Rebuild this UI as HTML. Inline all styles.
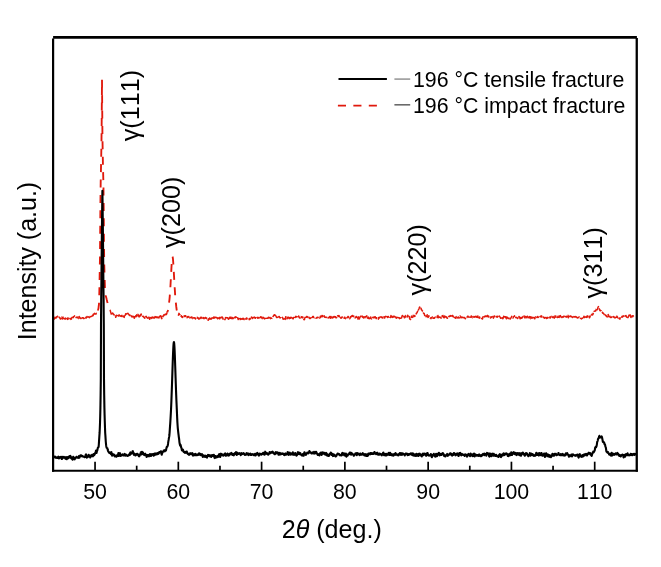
<!DOCTYPE html>
<html><head><meta charset="utf-8"><style>
html,body{margin:0;padding:0;background:#fff;}
svg{display:block;will-change:transform;}
text{font-family:"Liberation Sans",sans-serif;fill:#000;font-kerning:none;font-feature-settings:"kern" 0;}
.rb{fill:none;stroke:#e0190c;stroke-width:1.5;stroke-dasharray:4.5 1.2;stroke-linejoin:round;}
.rp{fill:none;stroke:#e0190c;stroke-width:1.85;stroke-dasharray:8 7.4;stroke-linejoin:round;}
</style></head><body>
<svg width="661" height="567" viewBox="0 0 661 567">
<rect x="0" y="0" width="661" height="567" fill="#fff"/>
<polyline class="rb" points="53.20,319.35 53.45,319.34 53.70,318.80 53.95,318.42 54.20,318.55 54.45,318.92 54.70,318.57 54.95,317.85 55.20,316.51 55.45,316.68 55.70,317.43 55.95,317.98 56.20,318.03 56.45,317.48 56.70,316.81 56.95,317.19 57.20,316.81 57.45,316.17 57.70,316.55 57.95,317.02 58.20,317.43 58.45,317.67 58.70,317.47 58.95,317.27 59.20,317.21 59.45,317.38 59.70,317.46 59.95,318.26 60.20,318.58 60.45,319.02 60.70,318.87 60.95,318.42 61.20,318.39 61.45,318.41 61.70,317.96 61.95,316.96 62.20,317.70 62.45,318.97 62.70,318.75 62.95,318.71 63.20,317.80 63.45,317.20 63.70,317.62 63.95,317.77 64.20,317.92 64.45,318.82 64.70,318.92 64.95,318.39 65.20,319.13 65.45,318.79 65.70,318.11 65.95,318.83 66.20,318.96 66.45,318.57 66.70,318.18 66.95,318.76 67.20,318.94 67.45,319.44 67.70,318.36 67.95,317.90 68.20,318.38 68.45,318.29 68.70,318.86 68.95,318.42 69.20,318.55 69.45,318.13 69.70,318.27 69.95,318.60 70.20,318.59 70.45,318.91 70.70,318.81 70.95,319.39 71.20,318.93 71.45,318.06 71.70,318.83 71.95,318.19 72.20,317.32 72.45,317.41 72.70,317.44 72.95,317.61 73.20,317.65 73.45,317.32 73.70,316.40 73.95,316.56 74.20,316.27 74.45,315.91 74.70,316.20 74.95,316.57 75.20,317.20 75.45,317.28 75.70,317.44 75.95,317.38 76.20,317.48 76.45,317.50 76.70,317.12 76.95,317.28 77.20,317.38 77.45,317.19 77.70,317.13 77.95,317.70 78.20,318.20 78.45,318.45 78.70,317.72 78.95,317.10 79.20,316.51 79.45,316.93 79.70,317.82 79.95,318.17 80.20,317.80 80.45,318.12 80.70,318.40 80.95,318.40 81.20,317.65 81.45,317.02 81.70,317.50 81.95,318.06 82.20,317.73 82.45,317.79 82.70,317.71 82.95,317.70 83.20,317.80 83.45,318.59 83.70,318.24 83.95,318.31 84.20,318.38 84.45,317.83 84.70,317.31 84.95,317.25 85.20,317.26 85.45,317.60 85.70,317.72 85.95,318.18 86.20,317.88 86.45,317.76 86.70,316.99 86.95,316.49 87.20,317.14 87.45,317.91 87.70,318.09 87.95,317.85 88.20,317.08 88.45,316.87 88.70,317.00 88.95,316.99 89.20,317.36 89.45,317.59 89.70,317.32 89.95,316.77 90.20,316.89 90.45,315.82 90.70,315.90 90.95,316.05 91.20,316.17 91.45,316.29 91.70,316.51 91.95,315.97 92.20,315.93 92.45,315.31 92.70,315.42 92.95,315.69 93.20,315.46 93.45,314.16 93.70,313.67 93.95,314.58 94.20,313.77 94.45,313.39 94.70,313.55 94.95,314.04 95.20,313.97 95.45,314.08 95.70,314.09 95.95,313.67 96.20,313.31 96.45,313.66 96.70,313.35 96.95,312.28"/>
<polyline class="rp" style="stroke-dashoffset:8" points="102.00,79.73 101.95,86.62 101.70,120.92 101.45,143.16 101.20,157.36 100.95,170.24 100.70,182.08 100.45,200.99 100.20,230.30 99.95,259.41 99.70,272.75 99.45,286.90 99.20,298.46 98.95,304.69 98.70,306.23 98.45,308.48 98.20,309.26 97.95,309.84 97.70,310.89 97.45,310.86 97.20,310.94 96.95,312.28"/>
<polyline class="rp" points="102.00,79.73 102.20,107.10 102.45,137.26 102.70,151.49 102.95,164.90 103.20,174.95 103.45,185.02 103.70,208.27 103.95,240.14 104.20,262.47 104.45,270.68 104.70,279.24 104.95,287.93 105.20,293.40 105.45,294.64 105.70,295.68 105.95,296.50 106.20,297.38 106.45,298.36 106.70,299.46 106.95,300.35 107.20,301.95 107.45,302.27 107.70,303.24 107.95,304.08 108.20,304.48 108.45,304.83 108.70,305.05 108.95,306.21 109.20,307.73 109.45,308.50 109.70,308.69 109.95,309.61 110.20,310.02"/>
<polyline class="rb" points="110.20,310.02 110.45,311.34 110.70,312.26 110.95,312.87 111.20,314.02 111.45,313.63 111.70,313.98 111.95,313.43 112.20,313.66 112.45,313.03 112.70,313.18 112.95,313.36 113.20,313.96 113.45,314.00 113.70,314.47 113.95,314.93 114.20,314.81 114.45,315.25 114.70,315.81 114.95,315.84 115.20,316.10 115.45,315.99 115.70,317.26 115.95,316.91 116.20,315.51 116.45,315.31 116.70,315.65 116.95,316.12 117.20,316.37 117.45,316.56 117.70,316.30 117.95,315.47 118.20,315.68 118.45,315.88 118.70,316.07 118.95,315.55 119.20,314.85 119.45,315.67 119.70,316.88 119.95,316.41 120.20,316.37 120.45,315.94 120.70,315.73 120.95,315.87 121.20,316.05 121.45,316.36 121.70,315.73 121.95,315.31 122.20,316.31 122.45,316.43 122.70,315.97 122.95,316.09 123.20,316.52 123.45,316.29 123.70,315.99 123.95,317.04 124.20,317.46 124.45,316.14 124.70,315.37 124.95,316.00 125.20,315.91 125.45,314.59 125.70,313.79 125.95,313.77 126.20,314.01 126.45,313.89 126.70,313.98 126.95,313.77 127.20,313.42 127.45,314.23 127.70,314.45 127.95,313.34 128.20,313.72 128.45,314.07 128.70,314.30 128.95,314.75 129.20,314.90 129.45,315.58 129.70,315.33 129.95,315.09 130.20,315.60 130.45,315.89 130.70,316.25 130.95,315.82 131.20,315.81 131.45,316.62 131.70,316.35 131.95,316.46 132.20,316.80 132.45,316.26 132.70,316.23 132.95,316.65 133.20,317.60 133.45,316.88 133.70,316.47 133.95,316.97 134.20,318.22 134.45,317.92 134.70,316.74 134.95,316.64 135.20,317.32 135.45,316.28 135.70,315.81 135.95,315.93 136.20,316.69 136.45,315.50 136.70,314.86 136.95,315.48 137.20,315.69 137.45,315.34 137.70,314.83 137.95,314.39 138.20,315.09 138.45,315.97 138.70,315.23 138.95,316.19 139.20,316.96 139.45,316.48 139.70,315.97 139.95,316.18 140.20,315.83 140.45,314.83 140.70,314.97 140.95,314.30 141.20,313.99 141.45,314.95 141.70,314.81 141.95,314.89 142.20,314.91 142.45,315.99 142.70,316.39 142.95,316.20 143.20,316.20 143.45,316.70 143.70,317.30 143.95,317.21 144.20,317.27 144.45,317.95 144.70,318.17 144.95,318.31 145.20,317.86 145.45,316.91 145.70,316.90 145.95,316.49 146.20,316.34 146.45,316.96 146.70,317.24 146.95,317.52 147.20,317.57 147.45,318.00 147.70,318.04 147.95,318.43 148.20,319.13 148.45,319.33 148.70,318.20 148.95,317.12 149.20,317.45 149.45,318.83 149.70,319.28 149.95,318.91 150.20,318.63 150.45,317.75 150.70,317.63 150.95,318.38 151.20,318.40 151.45,318.20 151.70,318.03 151.95,317.43 152.20,316.98 152.45,317.88 152.70,317.79 152.95,317.29 153.20,317.51 153.45,317.98 153.70,317.42 153.95,317.14 154.20,317.74 154.45,318.04 154.70,317.92 154.95,317.56 155.20,316.99 155.45,316.25 155.70,315.59 155.95,316.12 156.20,316.69 156.45,317.51 156.70,317.19 156.95,317.49 157.20,317.70 157.45,317.03 157.70,317.24 157.95,318.45 158.20,318.37 158.45,317.23 158.70,317.63 158.95,317.93 159.20,316.99 159.45,316.75 159.70,316.56 159.95,316.12 160.20,315.49 160.45,314.69 160.70,315.28 160.95,316.17 161.20,317.04 161.45,318.18 161.70,318.69 161.95,318.10 162.20,317.05 162.45,316.21 162.70,316.38 162.95,316.65 163.20,316.05 163.45,315.89 163.70,315.77 163.95,314.68 164.20,314.55 164.45,315.27 164.70,315.12 164.95,314.94 165.20,314.43 165.45,314.08 165.70,314.70 165.95,314.40 166.20,314.48 166.45,314.43 166.70,313.83 166.95,312.88 167.20,312.55"/>
<polyline class="rp" style="stroke-dashoffset:8" points="172.50,256.61 172.45,256.66 172.20,257.69 171.95,260.02 171.70,263.39 171.45,267.57 171.20,272.24 170.95,276.95 170.70,281.57 170.45,285.95 170.20,289.86 169.95,293.41 169.70,296.88 169.45,299.55 169.20,301.50 168.95,304.18 168.70,306.22 168.45,307.89 168.20,309.80 167.95,310.44 167.70,311.14 167.45,311.56 167.20,312.55"/>
<polyline class="rp" points="172.50,256.61 172.70,257.06 172.95,258.95 173.20,261.98 173.45,265.77 173.70,270.11 173.95,274.62 174.20,279.08 174.45,283.56 174.70,287.88 174.95,291.62 175.20,295.98 175.45,299.17 175.70,301.43 175.95,303.66 176.20,306.17 176.45,308.00 176.70,310.06 176.95,310.80 177.20,311.58 177.45,312.24 177.70,313.55 177.95,314.17 178.20,314.70"/>
<polyline class="rb" points="178.20,314.70 178.45,315.14 178.70,314.17 178.95,313.38 179.20,313.43 179.45,314.11 179.70,314.54 179.95,314.82 180.20,315.43 180.45,315.74 180.70,315.52 180.95,316.09 181.20,315.77 181.45,315.82 181.70,316.79 181.95,317.28 182.20,317.08 182.45,316.72 182.70,317.41 182.95,317.11 183.20,316.45 183.45,316.53 183.70,316.53 183.95,316.17 184.20,316.04 184.45,316.49 184.70,315.86 184.95,315.82 185.20,315.83 185.45,315.74 185.70,315.69 185.95,317.20 186.20,317.52 186.45,317.12 186.70,317.44 186.95,317.43 187.20,317.61 187.45,317.20 187.70,316.64 187.95,316.93 188.20,317.11 188.45,316.86 188.70,316.47 188.95,317.15 189.20,317.70 189.45,317.48 189.70,317.24 189.95,317.89 190.20,317.55 190.45,317.51 190.70,317.36 190.95,317.28 191.20,317.58 191.45,317.32 191.70,317.07 191.95,317.11 192.20,318.09 192.45,318.56 192.70,318.26 192.95,317.95 193.20,318.02 193.45,318.17 193.70,317.67 193.95,317.65 194.20,317.82 194.45,317.82 194.70,318.13 194.95,318.36 195.20,318.46 195.45,318.98 195.70,318.23 195.95,318.11 196.20,318.17 196.45,317.79 196.70,317.31 196.95,317.44 197.20,317.26 197.45,317.60 197.70,318.11 197.95,318.26 198.20,317.94 198.45,318.11 198.70,318.99 198.95,318.76 199.20,318.94 199.45,318.25 199.70,318.50 199.95,318.79 200.20,317.68 200.45,317.30 200.70,318.14 200.95,318.48 201.20,318.06 201.45,317.57 201.70,317.27 201.95,317.73 202.20,318.08 202.45,317.60 202.70,317.45 202.95,318.32 203.20,317.83 203.45,317.64 203.70,318.30 203.95,318.77 204.20,318.07 204.45,318.49 204.70,319.19 204.95,318.61 205.20,317.92 205.45,317.41 205.70,317.45 205.95,318.29 206.20,317.80 206.45,318.24 206.70,318.69 206.95,318.31 207.20,318.60 207.45,319.29 207.70,319.47 207.95,319.99 208.20,320.26 208.45,319.95 208.70,318.85 208.95,318.99 209.20,318.93 209.45,318.36 209.70,317.74 209.95,318.38 210.20,319.21 210.45,319.06 210.70,318.39 210.95,318.46 211.20,318.74 211.45,318.94 211.70,318.36 211.95,317.93 212.20,317.81 212.45,318.73 212.70,319.16 212.95,318.50 213.20,318.18 213.45,317.82 213.70,317.10 213.95,317.64 214.20,318.17 214.45,317.84 214.70,317.06 214.95,316.61 215.20,316.90 215.45,317.59 215.70,317.32 215.95,317.54 216.20,317.77 216.45,317.60 216.70,317.56 216.95,317.98 217.20,317.77 217.45,318.03 217.70,318.74 217.95,318.32 218.20,317.07 218.45,317.35 218.70,318.08 218.95,317.86 219.20,318.37 219.45,318.69 219.70,318.74 219.95,318.45 220.20,317.09 220.45,316.72 220.70,316.88 220.95,317.14 221.20,317.73 221.45,317.59 221.70,317.08 221.95,317.07 222.20,317.07 222.45,317.37 222.70,317.73 222.95,319.01 223.20,318.92 223.45,318.31 223.70,318.38 223.95,318.75 224.20,318.76 224.45,319.07 224.70,319.12 224.95,319.65 225.20,318.89 225.45,317.76 225.70,317.52 225.95,318.06 226.20,318.83 226.45,318.39 226.70,318.24 226.95,317.65 227.20,317.96 227.45,317.68 227.70,317.87 227.95,318.08 228.20,318.23 228.45,319.27 228.70,318.43 228.95,318.53 229.20,319.43 229.45,318.76 229.70,317.36 229.95,318.03 230.20,318.26 230.45,317.43 230.70,317.35 230.95,317.14 231.20,317.47 231.45,318.57 231.70,318.43 231.95,317.54 232.20,317.52 232.45,318.46 232.70,318.63 232.95,318.54 233.20,318.56 233.45,318.06 233.70,318.04 233.95,318.34 234.20,318.87 234.45,318.18 234.70,317.28 234.95,317.25 235.20,317.76 235.45,317.38 235.70,316.76 235.95,316.83 236.20,317.24 236.45,317.06 236.70,316.99 236.95,316.69 237.20,316.47 237.45,317.63 237.70,318.06 237.95,318.84 238.20,319.50 238.45,318.38 238.70,318.05 238.95,317.65 239.20,317.35 239.45,317.44 239.70,317.89 239.95,318.65 240.20,319.49 240.45,319.15 240.70,318.85 240.95,319.15 241.20,318.78 241.45,319.13 241.70,319.05 241.95,318.83 242.20,319.36 242.45,319.85 242.70,319.43 242.95,318.29 243.20,318.26 243.45,319.02 243.70,319.01 243.95,318.77 244.20,319.51 244.45,319.81 244.70,319.92 244.95,319.77 245.20,319.84 245.45,318.93 245.70,318.76 245.95,319.15 246.20,318.82 246.45,317.97 246.70,318.20 246.95,318.87 247.20,318.74 247.45,318.30 247.70,318.33 247.95,318.39 248.20,318.45 248.45,318.76 248.70,318.76 248.95,318.68 249.20,319.62 249.45,319.16 249.70,318.95 249.95,319.42 250.20,318.56 250.45,317.53 250.70,317.25 250.95,317.47 251.20,317.37 251.45,317.07 251.70,317.47 251.95,317.81 252.20,318.53 252.45,318.13 252.70,317.50 252.95,317.70 253.20,316.93 253.45,316.09 253.70,316.90 253.95,317.74 254.20,317.40 254.45,317.16 254.70,317.47 254.95,317.65 255.20,318.13 255.45,318.09 255.70,317.86 255.95,318.28 256.20,318.47 256.45,317.98 256.70,318.02 256.95,317.76 257.20,317.33 257.45,317.62 257.70,318.29 257.95,318.24 258.20,318.05 258.45,317.43 258.70,317.80 258.95,317.68 259.20,318.80 259.45,318.71 259.70,318.42 259.95,317.75 260.20,317.45 260.45,316.91 260.70,316.84 260.95,317.21 261.20,317.10 261.45,317.07 261.70,317.43 261.95,318.18 262.20,318.45 262.45,318.49 262.70,317.61 262.95,317.29 263.20,317.77 263.45,317.95 263.70,317.55 263.95,318.22 264.20,318.44 264.45,318.80 264.70,318.87 264.95,318.55 265.20,318.33 265.45,318.66 265.70,318.87 265.95,318.00 266.20,318.28 266.45,318.31 266.70,318.19 266.95,318.26 267.20,318.21 267.45,318.10 267.70,318.25 267.95,317.98 268.20,318.14 268.45,317.15 268.70,317.79 268.95,317.30 269.20,316.69 269.45,316.83 269.70,317.29 269.95,317.78 270.20,318.16 270.45,318.67 270.70,318.27 270.95,317.99 271.20,318.04 271.45,318.28 271.70,318.28 271.95,318.37 272.20,317.46 272.45,317.00 272.70,316.74 272.95,316.48 273.20,316.37 273.45,315.86 273.70,315.12 273.95,315.09 274.20,315.08 274.45,314.68 274.70,315.44 274.95,316.32 275.20,316.13 275.45,315.32 275.70,315.40 275.95,316.08 276.20,316.61 276.45,317.35 276.70,317.48 276.95,317.39 277.20,317.25 277.45,317.48 277.70,317.59 277.95,318.22 278.20,317.61 278.45,316.99 278.70,316.68 278.95,316.43 279.20,316.41 279.45,317.00 279.70,317.56 279.95,317.96 280.20,317.72 280.45,317.81 280.70,317.68 280.95,317.64 281.20,318.08 281.45,318.25 281.70,318.01 281.95,317.97 282.20,317.79 282.45,317.33 282.70,317.92 282.95,318.17 283.20,319.34 283.45,318.95 283.70,318.85 283.95,318.67 284.20,318.25 284.45,319.08 284.70,318.82 284.95,319.23 285.20,319.39 285.45,318.45 285.70,316.71 285.95,316.88 286.20,317.28 286.45,317.20 286.70,317.91 286.95,318.82 287.20,318.64 287.45,317.65 287.70,317.28 287.95,317.96 288.20,317.99 288.45,317.33 288.70,317.21 288.95,318.26 289.20,318.67 289.45,318.45 289.70,318.01 289.95,317.53 290.20,317.53 290.45,317.52 290.70,318.22 290.95,317.52 291.20,317.38 291.45,317.74 291.70,318.21 291.95,318.94 292.20,318.68 292.45,318.01 292.70,318.30 292.95,318.68 293.20,318.73 293.45,317.57 293.70,317.42 293.95,317.47 294.20,317.99 294.45,318.22 294.70,318.06 294.95,318.35 295.20,317.29 295.45,317.05 295.70,316.64 295.95,316.30 296.20,316.72 296.45,317.00 296.70,316.74 296.95,316.71 297.20,316.87 297.45,316.91 297.70,317.49 297.95,317.48 298.20,317.31 298.45,317.14 298.70,316.01 298.95,316.54 299.20,317.58 299.45,317.37 299.70,317.95 299.95,318.06 300.20,317.86 300.45,317.53 300.70,316.95 300.95,316.55 301.20,316.68 301.45,317.52 301.70,317.61 301.95,317.36 302.20,316.86 302.45,317.35 302.70,317.80 302.95,317.25 303.20,317.26 303.45,317.94 303.70,319.15 303.95,319.37 304.20,319.74 304.45,319.65 304.70,318.32 304.95,317.48 305.20,316.52 305.45,317.05 305.70,317.19 305.95,317.34 306.20,317.09 306.45,316.43 306.70,317.12 306.95,316.99 307.20,316.54 307.45,316.89 307.70,317.41 307.95,317.30 308.20,317.99 308.45,317.94 308.70,317.55 308.95,317.20 309.20,317.57 309.45,318.45 309.70,318.32 309.95,318.22 310.20,318.29 310.45,318.44 310.70,318.18 310.95,317.62 311.20,317.56 311.45,317.43 311.70,317.25 311.95,316.52 312.20,316.99 312.45,317.45 312.70,316.55 312.95,316.54 313.20,316.85 313.45,316.58 313.70,317.09 313.95,317.57 314.20,317.83 314.45,317.70 314.70,317.58 314.95,317.39 315.20,317.63 315.45,317.81 315.70,317.98 315.95,318.15 316.20,318.19 316.45,318.05 316.70,317.74 316.95,317.41 317.20,317.20 317.45,317.68 317.70,317.80 317.95,317.24 318.20,317.38 318.45,317.25 318.70,317.05 318.95,316.86 319.20,317.33 319.45,317.91 319.70,318.05 319.95,317.86 320.20,316.81 320.45,316.14 320.70,317.01 320.95,317.11 321.20,317.41 321.45,317.82 321.70,316.98 321.95,315.47 322.20,315.65 322.45,316.23 322.70,316.72 322.95,315.92 323.20,315.93 323.45,316.25 323.70,315.44 323.95,315.63 324.20,315.74 324.45,316.26 324.70,317.20 324.95,317.36 325.20,317.29 325.45,317.26 325.70,317.18 325.95,317.41 326.20,317.57 326.45,317.22 326.70,317.39 326.95,317.52 327.20,318.18 327.45,318.49 327.70,318.35 327.95,318.18 328.20,317.53 328.45,317.42 328.70,317.59 328.95,317.54 329.20,317.68 329.45,317.18 329.70,316.46 329.95,316.53 330.20,317.49 330.45,318.32 330.70,317.33 330.95,316.51 331.20,317.02 331.45,316.90 331.70,317.22 331.95,319.02 332.20,319.11 332.45,317.76 332.70,317.12 332.95,317.00 333.20,317.38 333.45,317.53 333.70,317.27 333.95,316.43 334.20,316.73 334.45,317.39 334.70,317.11 334.95,316.57 335.20,317.24 335.45,317.49 335.70,316.74 335.95,317.64 336.20,317.57 336.45,317.81 336.70,317.48 336.95,316.78 337.20,316.22 337.45,315.86 337.70,315.68 337.95,316.09 338.20,316.17 338.45,315.68 338.70,315.78 338.95,315.49 339.20,316.01 339.45,316.98 339.70,317.86 339.95,318.00 340.20,317.95 340.45,317.60 340.70,317.50 340.95,318.27 341.20,318.16 341.45,317.33 341.70,317.47 341.95,317.63 342.20,317.03 342.45,317.03 342.70,317.53 342.95,317.63 343.20,317.70 343.45,317.34 343.70,317.58 343.95,317.95 344.20,318.22 344.45,317.34 344.70,317.15 344.95,317.14 345.20,317.86 345.45,318.40 345.70,318.61 345.95,318.06 346.20,318.13 346.45,318.18 346.70,318.41 346.95,317.70 347.20,317.35 347.45,317.54 347.70,317.10 347.95,316.52 348.20,316.41 348.45,317.68 348.70,318.54 348.95,318.54 349.20,318.73 349.45,318.47 349.70,318.74 349.95,318.58 350.20,317.57 350.45,316.76 350.70,316.88 350.95,317.04 351.20,316.76 351.45,315.97 351.70,316.86 351.95,316.72 352.20,315.94 352.45,315.42 352.70,315.67 352.95,316.34 353.20,316.65 353.45,316.50 353.70,315.98 353.95,316.52 354.20,317.12 354.45,317.21 354.70,317.22 354.95,317.72 355.20,317.91 355.45,317.22 355.70,317.55 355.95,316.84 356.20,316.48 356.45,316.80 356.70,317.72 356.95,318.12 357.20,318.21 357.45,317.51 357.70,317.70 357.95,319.02 358.20,318.35 358.45,316.87 358.70,317.20 358.95,318.16 359.20,318.99 359.45,318.79 359.70,317.52 359.95,317.44 360.20,316.99 360.45,316.48 360.70,316.00 360.95,315.44 361.20,315.43 361.45,315.85 361.70,316.10 361.95,315.96 362.20,316.91 362.45,316.92 362.70,317.12 362.95,316.65 363.20,316.84 363.45,317.96 363.70,317.76 363.95,316.89 364.20,317.25 364.45,316.90 364.70,317.47 364.95,317.67 365.20,317.13 365.45,316.69 365.70,316.59 365.95,316.45 366.20,316.27 366.45,316.58 366.70,316.15 366.95,315.87 367.20,317.05 367.45,318.14 367.70,318.01 367.95,317.37 368.20,317.10 368.45,317.57 368.70,318.51 368.95,318.33 369.20,317.65 369.45,318.09 369.70,318.60 369.95,318.10 370.20,317.73 370.45,317.22 370.70,317.04 370.95,318.12 371.20,318.56 371.45,318.76 371.70,318.90 371.95,318.39 372.20,318.22 372.45,318.35 372.70,317.60 372.95,317.23 373.20,317.74 373.45,317.70 373.70,317.52 373.95,317.81 374.20,317.79 374.45,316.79 374.70,315.80 374.95,315.80 375.20,316.39 375.45,317.01 375.70,317.47 375.95,318.16 376.20,318.63 376.45,317.87 376.70,318.22 376.95,318.06 377.20,317.99 377.45,318.04 377.70,318.60 377.95,318.83 378.20,319.14 378.45,318.89 378.70,317.44 378.95,317.50 379.20,318.05 379.45,318.02 379.70,317.45 379.95,317.06 380.20,317.55 380.45,316.82 380.70,316.98 380.95,316.71 381.20,316.88 381.45,317.35 381.70,317.18 381.95,317.73 382.20,317.60 382.45,317.19 382.70,317.57 382.95,317.98 383.20,318.31 383.45,318.15 383.70,317.09 383.95,316.90 384.20,316.83 384.45,316.97 384.70,317.94 384.95,317.20 385.20,316.68 385.45,316.42 385.70,316.36 385.95,316.93 386.20,316.67 386.45,316.17 386.70,316.30 386.95,316.70 387.20,316.93 387.45,317.34 387.70,317.45 387.95,316.73 388.20,316.42 388.45,316.79 388.70,317.11 388.95,317.02 389.20,317.05 389.45,316.59 389.70,316.88 389.95,316.99 390.20,316.74 390.45,317.42 390.70,317.33 390.95,315.61 391.20,316.01 391.45,316.79 391.70,317.02 391.95,316.46 392.20,316.85 392.45,317.37 392.70,316.85 392.95,316.23 393.20,316.22 393.45,316.71 393.70,317.02 393.95,317.02 394.20,316.51 394.45,315.64 394.70,316.00 394.95,316.55 395.20,316.96 395.45,317.09 395.70,316.91 395.95,317.62 396.20,318.22 396.45,318.04 396.70,317.90 396.95,317.38 397.20,317.25 397.45,317.97 397.70,318.40 397.95,318.60 398.20,318.04 398.45,317.58 398.70,317.75 398.95,318.04 399.20,317.75 399.45,318.62 399.70,318.30 399.95,318.04 400.20,318.10 400.45,318.27 400.70,317.36 400.95,317.66 401.20,317.86 401.45,318.02 401.70,317.57 401.95,316.41 402.20,315.65 402.45,315.53 402.70,316.42 402.95,317.03 403.20,316.90 403.45,316.70 403.70,316.70 403.95,316.36 404.20,317.33 404.45,317.77 404.70,317.55 404.95,317.35 405.20,317.13 405.45,315.78 405.70,315.57 405.95,316.11 406.20,316.23 406.45,316.21 406.70,316.43 406.95,316.52 407.20,317.07 407.45,316.29 407.70,315.27 407.95,315.85 408.20,316.08 408.45,316.29 408.70,317.22 408.95,316.77 409.20,316.52 409.45,317.67 409.70,318.90 409.95,318.88 410.20,319.36 410.45,319.27 410.70,319.39 410.95,318.87 411.20,317.87 411.45,316.17 411.70,316.10 411.95,316.32 412.20,316.86 412.45,317.41 412.70,317.30 412.95,316.60 413.20,315.38 413.45,315.46 413.70,316.12 413.95,316.57 414.20,316.36 414.45,315.69 414.70,315.58 414.95,316.19 415.20,315.54 415.45,315.31 415.70,315.20 415.95,314.81 416.20,313.79 416.45,313.11 416.70,313.01 416.95,312.63 417.20,312.36 417.45,311.51 417.70,311.24 417.95,311.14 418.20,311.52 418.45,309.86 418.70,309.28 418.95,308.93 419.20,308.14 419.45,307.28 419.70,307.03 419.95,307.49 420.20,308.34 420.45,308.71 420.70,308.78 420.95,308.22 421.20,308.80 421.45,309.81 421.70,310.07 421.95,310.23 422.20,310.66 422.45,311.19 422.70,311.21 422.95,311.64 423.20,311.96 423.45,312.99 423.70,313.54 423.95,313.48 424.20,313.42 424.45,314.50 424.70,315.58 424.95,315.31 425.20,315.31 425.45,314.78 425.70,315.12 425.95,316.00 426.20,316.67 426.45,316.56 426.70,316.22 426.95,316.34 427.20,314.70 427.45,315.02 427.70,316.62 427.95,317.39 428.20,317.37 428.45,316.24 428.70,315.70 428.95,315.85 429.20,316.51 429.45,317.32 429.70,317.32 429.95,317.50 430.20,317.98 430.45,317.92 430.70,318.26 430.95,318.62 431.20,317.89 431.45,317.71 431.70,317.56 431.95,317.72 432.20,317.00 432.45,316.98 432.70,317.33 432.95,316.98 433.20,318.28 433.45,318.30 433.70,317.80 433.95,317.81 434.20,318.25 434.45,318.13 434.70,317.58 434.95,317.62 435.20,317.22 435.45,317.12 435.70,317.23 435.95,317.10 436.20,316.79 436.45,316.63 436.70,316.44 436.95,316.70 437.20,317.57 437.45,317.40 437.70,316.02 437.95,315.51 438.20,316.93 438.45,317.63 438.70,316.98 438.95,316.96 439.20,317.06 439.45,317.18 439.70,317.10 439.95,317.35 440.20,317.49 440.45,317.63 440.70,317.66 440.95,317.41 441.20,318.13 441.45,317.93 441.70,317.45 441.95,316.57 442.20,315.86 442.45,316.29 442.70,315.98 442.95,315.53 443.20,317.00 443.45,317.54 443.70,316.97 443.95,317.29 444.20,317.81 444.45,317.03 444.70,315.90 444.95,316.82 445.20,316.34 445.45,316.98 445.70,317.96 445.95,317.22 446.20,316.90 446.45,317.54 446.70,317.48 446.95,317.20 447.20,318.35 447.45,318.11 447.70,317.69 447.95,317.58 448.20,317.61 448.45,317.68 448.70,316.81 448.95,316.29 449.20,316.52 449.45,316.53 449.70,316.34 449.95,315.82 450.20,316.18 450.45,316.16 450.70,315.64 450.95,316.01 451.20,316.23 451.45,316.88 451.70,316.99 451.95,316.14 452.20,315.41 452.45,315.60 452.70,315.48 452.95,315.83 453.20,316.82 453.45,316.78 453.70,316.20 453.95,316.00 454.20,316.79 454.45,317.57 454.70,317.51 454.95,317.40 455.20,317.71 455.45,318.29 455.70,318.17 455.95,317.39 456.20,316.61 456.45,317.45 456.70,317.63 456.95,317.67 457.20,317.93 457.45,317.46 457.70,317.69 457.95,317.57 458.20,317.00 458.45,317.36 458.70,317.82 458.95,318.15 459.20,317.82 459.45,317.41 459.70,317.04 459.95,315.90 460.20,316.04 460.45,316.27 460.70,317.01 460.95,317.66 461.20,317.48 461.45,317.51 461.70,317.71 461.95,317.71 462.20,316.86 462.45,316.98 462.70,316.66 462.95,316.82 463.20,317.48 463.45,317.63 463.70,317.47 463.95,317.81 464.20,317.60 464.45,317.55 464.70,317.79 464.95,318.19 465.20,318.84 465.45,318.83 465.70,318.19 465.95,317.97 466.20,317.92 466.45,318.15 466.70,317.98 466.95,317.47 467.20,316.68 467.45,316.70 467.70,316.30 467.95,316.10 468.20,316.51 468.45,316.72 468.70,317.13 468.95,317.21 469.20,317.05 469.45,317.13 469.70,316.96 469.95,316.54 470.20,316.34 470.45,317.00 470.70,317.25 470.95,316.96 471.20,316.04 471.45,315.98 471.70,316.76 471.95,317.31 472.20,317.39 472.45,317.61 472.70,317.19 472.95,317.29 473.20,316.58 473.45,316.63 473.70,316.84 473.95,317.24 474.20,316.86 474.45,316.89 474.70,316.99 474.95,316.56 475.20,316.68 475.45,316.41 475.70,316.84 475.95,316.15 476.20,316.02 476.45,316.91 476.70,317.12 476.95,316.24 477.20,317.04 477.45,317.43 477.70,316.81 477.95,315.96 478.20,316.14 478.45,316.58 478.70,316.26 478.95,317.66 479.20,318.19 479.45,317.07 479.70,317.11 479.95,317.92 480.20,317.89 480.45,318.17 480.70,317.86 480.95,317.71 481.20,318.00 481.45,318.42 481.70,318.42 481.95,318.33 482.20,318.89 482.45,318.97 482.70,318.14 482.95,316.91 483.20,316.76 483.45,317.01 483.70,317.40 483.95,317.46 484.20,316.89 484.45,316.97 484.70,316.28 484.95,316.37 485.20,316.14 485.45,316.16 485.70,316.43 485.95,315.83 486.20,315.94 486.45,316.50 486.70,315.86 486.95,315.02 487.20,315.20 487.45,315.91 487.70,316.63 487.95,316.67 488.20,316.01 488.45,316.05 488.70,316.35 488.95,317.03 489.20,317.34 489.45,317.23 489.70,317.35 489.95,317.17 490.20,317.41 490.45,317.95 490.70,317.59 490.95,316.83 491.20,316.91 491.45,317.43 491.70,317.03 491.95,316.73 492.20,316.90 492.45,316.54 492.70,316.85 492.95,316.89 493.20,317.48 493.45,318.16 493.70,317.30 493.95,316.22 494.20,315.96 494.45,316.64 494.70,316.55 494.95,316.09 495.20,316.35 495.45,316.52 495.70,316.21 495.95,316.53 496.20,316.75 496.45,316.59 496.70,316.98 496.95,316.27 497.20,316.24 497.45,317.12 497.70,316.84 497.95,316.54 498.20,316.68 498.45,317.15 498.70,316.89 498.95,316.56 499.20,316.04 499.45,316.23 499.70,316.69 499.95,316.65 500.20,317.31 500.45,318.16 500.70,318.22 500.95,318.28 501.20,317.81 501.45,318.15 501.70,318.19 501.95,318.36 502.20,317.90 502.45,318.31 502.70,318.74 502.95,318.44 503.20,318.10 503.45,317.32 503.70,316.30 503.95,316.54 504.20,316.99 504.45,317.57 504.70,317.22 504.95,316.84 505.20,317.47 505.45,317.22 505.70,316.66 505.95,317.59 506.20,318.04 506.45,318.75 506.70,317.91 506.95,316.89 507.20,317.73 507.45,317.84 507.70,317.76 507.95,318.27 508.20,318.57 508.45,318.18 508.70,318.04 508.95,318.59 509.20,318.37 509.45,317.86 509.70,318.39 509.95,318.30 510.20,318.93 510.45,318.76 510.70,318.03 510.95,317.86 511.20,317.27 511.45,317.12 511.70,316.35 511.95,316.45 512.20,317.10 512.45,317.59 512.70,317.83 512.95,317.94 513.20,317.65 513.45,316.93 513.70,316.71 513.95,316.55 514.20,316.41 514.45,315.78 514.70,316.31 514.95,317.38 515.20,317.14 515.45,316.92 515.70,317.55 515.95,317.74 516.20,317.63 516.45,317.45 516.70,317.32 516.95,317.74 517.20,317.95 517.45,318.12 517.70,318.48 517.95,317.98 518.20,317.96 518.45,318.30 518.70,317.72 518.95,316.56 519.20,316.88 519.45,316.87 519.70,317.24 519.95,318.33 520.20,318.81 520.45,317.94 520.70,316.71 520.95,317.13 521.20,317.44 521.45,317.66 521.70,318.32 521.95,317.99 522.20,317.61 522.45,317.30 522.70,317.26 522.95,316.61 523.20,316.09 523.45,316.47 523.70,316.34 523.95,315.90 524.20,315.92 524.45,316.66 524.70,317.40 524.95,317.98 525.20,316.97 525.45,316.44 525.70,316.68 525.95,316.76 526.20,316.05 526.45,316.52 526.70,317.61 526.95,317.81 527.20,316.73 527.45,316.27 527.70,316.96 527.95,317.49 528.20,318.13 528.45,318.11 528.70,317.50 528.95,317.08 529.20,317.24 529.45,316.79 529.70,316.65 529.95,317.36 530.20,318.43 530.45,318.59 530.70,317.90 530.95,316.77 531.20,317.19 531.45,317.22 531.70,317.81 531.95,318.28 532.20,318.10 532.45,317.42 532.70,317.37 532.95,318.31 533.20,318.61 533.45,317.81 533.70,317.60 533.95,317.91 534.20,318.08 534.45,318.69 534.70,318.81 534.95,318.30 535.20,317.33 535.45,316.89 535.70,317.08 535.95,317.47 536.20,317.80 536.45,317.57 536.70,317.26 536.95,317.55 537.20,317.56 537.45,316.90 537.70,316.48 537.95,317.05 538.20,317.45 538.45,317.14 538.70,316.57 538.95,317.00 539.20,317.10 539.45,316.94 539.70,316.85 539.95,316.59 540.20,316.51 540.45,316.76 540.70,316.64 540.95,316.33 541.20,315.91 541.45,316.58 541.70,317.08 541.95,316.33 542.20,316.54 542.45,316.85 542.70,317.16 542.95,317.30 543.20,317.06 543.45,317.54 543.70,317.54 543.95,317.23 544.20,317.64 544.45,318.16 544.70,318.16 544.95,317.68 545.20,317.84 545.45,317.58 545.70,317.67 545.95,318.87 546.20,318.71 546.45,318.14 546.70,317.58 546.95,317.45 547.20,317.53 547.45,318.10 547.70,317.42 547.95,317.49 548.20,317.92 548.45,317.88 548.70,318.25 548.95,318.16 549.20,317.96 549.45,317.60 549.70,317.06 549.95,317.94 550.20,318.03 550.45,317.61 550.70,317.06 550.95,316.45 551.20,316.49 551.45,316.19 551.70,316.11 551.95,316.07 552.20,316.68 552.45,317.46 552.70,317.24 552.95,316.52 553.20,316.63 553.45,317.34 553.70,317.22 553.95,317.68 554.20,318.13 554.45,317.61 554.70,316.32 554.95,316.03 555.20,317.16 555.45,316.37 555.70,315.99 555.95,316.40 556.20,316.76 556.45,316.98 556.70,316.42 556.95,316.29 557.20,316.71 557.45,316.68 557.70,317.44 557.95,316.35 558.20,316.63 558.45,317.29 558.70,316.78 558.95,316.17 559.20,316.88 559.45,317.35 559.70,316.45 559.95,315.86 560.20,315.99 560.45,315.60 560.70,316.49 560.95,316.91 561.20,316.47 561.45,316.15 561.70,317.09 561.95,317.59 562.20,317.33 562.45,316.72 562.70,316.74 562.95,316.68 563.20,317.17 563.45,316.61 563.70,316.17 563.95,316.67 564.20,317.12 564.45,316.92 564.70,316.62 564.95,316.37 565.20,316.68 565.45,316.78 565.70,316.78 565.95,316.69 566.20,316.57 566.45,316.63 566.70,317.15 566.95,316.18 567.20,316.54 567.45,316.67 567.70,315.37 567.95,315.26 568.20,316.69 568.45,317.71 568.70,317.03 568.95,315.99 569.20,315.58 569.45,315.35 569.70,315.09 569.95,315.54 570.20,316.23 570.45,316.13 570.70,316.47 570.95,316.72 571.20,316.32 571.45,316.48 571.70,316.79 571.95,316.68 572.20,317.10 572.45,317.41 572.70,316.91 572.95,316.29 573.20,316.83 573.45,316.94 573.70,316.79 573.95,316.51 574.20,316.92 574.45,317.02 574.70,316.80 574.95,316.77 575.20,316.81 575.45,316.51 575.70,317.20 575.95,317.52 576.20,317.72 576.45,316.87 576.70,317.21 576.95,317.79 577.20,317.80 577.45,317.66 577.70,317.92 577.95,317.57 578.20,317.65 578.45,317.45 578.70,317.17 578.95,316.93 579.20,316.99 579.45,317.34 579.70,317.77 579.95,317.55 580.20,317.58 580.45,318.28 580.70,318.43 580.95,318.46 581.20,318.50 581.45,318.94 581.70,318.60 581.95,318.19 582.20,318.21 582.45,318.30 582.70,318.06 582.95,318.04 583.20,317.98 583.45,318.36 583.70,317.33 583.95,316.23 584.20,317.37 584.45,317.54 584.70,317.53 584.95,317.30 585.20,315.88 585.45,315.97 585.70,316.67 585.95,316.69 586.20,317.36 586.45,317.39 586.70,317.00 586.95,316.80 587.20,315.81 587.45,316.21 587.70,316.90 587.95,317.08 588.20,316.89 588.45,317.02 588.70,316.59 588.95,316.27 589.20,316.75 589.45,317.74 589.70,317.59 589.95,316.59 590.20,316.18 590.45,315.71 590.70,314.78 590.95,314.87 591.20,315.06 591.45,314.70 591.70,314.52 591.95,314.20 592.20,314.59 592.45,314.97 592.70,314.62 592.95,314.38 593.20,313.58 593.45,312.87 593.70,312.46 593.95,311.47 594.20,311.33 594.45,311.32 594.70,311.14 594.95,311.08 595.20,310.70 595.45,311.02 595.70,310.84 595.95,310.04 596.20,309.15 596.45,308.73 596.70,309.02 596.95,309.07 597.20,309.75 597.45,309.19 597.70,308.57 597.90,307.56 597.95,307.41 598.20,307.05 598.45,306.65 598.70,307.69 598.95,308.12 599.20,308.53 599.45,309.31 599.70,309.99 599.95,310.39 600.20,310.76 600.45,310.33 600.70,310.64 600.95,310.47 601.20,310.92 601.45,311.77 601.70,311.91 601.95,311.93 602.20,312.20 602.45,312.77 602.70,313.27 602.95,313.16 603.20,313.01 603.45,313.54 603.70,313.65 603.95,313.91 604.20,314.32 604.45,314.85 604.70,314.82 604.95,314.54 605.20,314.24 605.45,314.63 605.70,315.46 605.95,315.65 606.20,316.13 606.45,316.02 606.70,315.91 606.95,316.14 607.20,316.95 607.45,316.49 607.70,315.99 607.95,315.48 608.20,314.39 608.45,315.08 608.70,316.49 608.95,316.74 609.20,315.77 609.45,315.11 609.70,315.71 609.95,316.74 610.20,317.05 610.45,317.45 610.70,317.23 610.95,317.41 611.20,317.59 611.45,317.34 611.70,317.08 611.95,317.00 612.20,317.17 612.45,317.45 612.70,317.74 612.95,317.32 613.20,316.78 613.45,316.50 613.70,316.76 613.95,317.33 614.20,317.56 614.45,317.79 614.70,317.17 614.95,317.03 615.20,317.72 615.45,317.83 615.70,317.49 615.95,316.62 616.20,316.89 616.45,317.25 616.70,316.92 616.95,316.13 617.20,316.84 617.45,317.37 617.70,317.68 617.95,317.31 618.20,317.24 618.45,317.13 618.70,317.12 618.95,318.17 619.20,318.78 619.45,318.24 619.70,319.06 619.95,319.05 620.20,317.59 620.45,317.07 620.70,317.12 620.95,316.98 621.20,316.81 621.45,316.61 621.70,316.84 621.95,317.21 622.20,317.19 622.45,316.50 622.70,316.08 622.95,316.53 623.20,316.45 623.45,315.86 623.70,315.80 623.95,315.24 624.20,315.22 624.45,315.55 624.70,315.69 624.95,316.02 625.20,315.71 625.45,315.86 625.70,316.01 625.95,315.44 626.20,316.36 626.45,317.04 626.70,317.01 626.95,317.31 627.20,316.71 627.45,316.51 627.70,316.80 627.95,317.62 628.20,316.94 628.45,316.55 628.70,315.80 628.95,315.95 629.20,315.08 629.45,314.48 629.70,313.82 629.95,314.51 630.20,315.53 630.45,315.51 630.70,316.88 630.95,317.48 631.20,316.45 631.45,315.78 631.70,316.23 631.95,316.37 632.20,315.66 632.45,316.10 632.70,316.75 632.95,316.63 633.20,315.83 633.45,316.30 633.70,316.76 633.95,317.06"/>

<polyline fill="none" stroke="#000" stroke-width="2.1" stroke-linejoin="round" points="53.20,456.09 53.40,456.56 53.60,456.93 53.80,456.76 54.00,456.55 54.20,456.68 54.40,456.99 54.60,456.92 54.80,456.64 55.00,457.04 55.20,457.57 55.40,457.35 55.60,456.93 55.80,457.22 56.00,457.77 56.20,457.76 56.40,457.41 56.60,457.63 56.80,457.86 57.00,458.05 57.20,457.95 57.40,457.35 57.60,457.18 57.80,457.66 58.00,457.87 58.20,457.24 58.40,456.69 58.60,457.13 58.80,458.05 59.00,458.35 59.20,457.81 59.40,457.44 59.60,457.40 59.80,457.23 60.00,457.00 60.20,457.22 60.40,457.64 60.60,457.72 60.80,457.36 61.00,456.88 61.20,456.85 61.40,457.46 61.60,458.50 61.80,459.02 62.00,458.94 62.20,458.65 62.40,457.85 62.60,457.04 62.80,456.81 63.00,457.12 63.20,457.40 63.40,457.66 63.60,457.72 63.80,457.25 64.00,456.90 64.20,457.16 64.40,457.53 64.60,457.81 64.80,457.92 65.00,457.77 65.20,458.11 65.40,458.85 65.60,458.68 65.80,457.69 66.00,457.00 66.20,457.21 66.40,458.04 66.60,458.95 66.80,459.17 67.00,458.33 67.20,457.61 67.40,457.36 67.60,457.23 67.80,456.99 68.00,457.11 68.20,457.79 68.40,458.20 68.60,458.14 68.80,457.73 69.00,457.57 69.20,457.10 69.40,456.18 69.60,456.30 69.80,457.10 70.00,456.89 70.20,456.08 70.40,455.95 70.60,456.34 70.80,457.19 71.00,457.98 71.20,458.25 71.40,458.36 71.60,457.83 71.80,457.72 72.00,458.54 72.20,459.14 72.40,459.49 72.60,459.63 72.80,459.21 73.00,458.12 73.20,456.86 73.40,456.80 73.60,457.57 73.80,458.03 74.00,458.06 74.20,458.17 74.40,458.90 74.60,459.40 74.80,459.07 75.00,458.71 75.20,458.58 75.40,458.40 75.60,457.90 75.80,457.48 76.00,457.41 76.20,457.09 76.40,456.74 76.60,457.08 76.80,457.42 77.00,457.36 77.20,457.31 77.40,457.57 77.60,457.54 77.80,457.26 78.00,457.51 78.20,457.85 78.40,457.45 78.60,456.54 78.80,456.18 79.00,456.46 79.20,457.14 79.40,457.71 79.60,457.05 79.80,456.56 80.00,456.62 80.20,455.96 80.40,455.30 80.60,455.56 80.80,455.76 81.00,455.56 81.20,455.35 81.40,455.66 81.60,456.20 81.80,456.22 82.00,455.85 82.20,455.76 82.40,456.06 82.60,456.43 82.80,456.35 83.00,456.26 83.20,456.55 83.40,456.63 83.60,456.56 83.80,456.48 84.00,456.66 84.20,456.83 84.40,457.00 84.60,457.23 84.80,457.23 85.00,456.96 85.20,456.42 85.40,455.80 85.60,455.23 85.80,454.42 86.00,454.39 86.20,455.43 86.40,456.61 86.60,457.46 86.80,457.61 87.00,457.24 87.20,456.80 87.40,456.93 87.60,457.22 87.80,457.03 88.00,456.58 88.20,455.95 88.40,455.22 88.60,454.78 88.80,454.97 89.00,455.54 89.20,455.67 89.40,455.62 89.60,455.83 89.80,456.22 90.00,457.07 90.20,457.45 90.40,456.60 90.60,455.47 90.80,455.56 91.00,456.51 91.20,456.32 91.40,455.67 91.60,455.41 91.80,454.89 92.00,454.83 92.20,455.05 92.40,455.08 92.60,455.58 92.80,456.36 93.00,456.11 93.20,455.56 93.40,454.83 93.60,454.11 93.80,454.29 94.00,454.97 94.20,455.17 94.40,454.81 94.60,454.48 94.80,454.18 95.00,453.52 95.20,452.85 95.40,452.93 95.60,452.60 95.80,451.45 96.00,450.53 96.20,451.13 96.40,452.56 96.60,452.87 96.80,451.66 97.00,450.84 97.20,450.83 97.40,450.03 97.60,448.88 97.80,448.01 98.00,447.53 98.20,447.38 98.40,447.29 98.60,446.87 98.80,444.85 99.00,441.61 99.20,438.56 99.40,435.63 99.60,432.95 99.80,428.47 100.00,423.55 100.20,416.60 100.40,408.06 100.60,395.89 100.80,379.87 101.00,324.01 101.20,299.38 101.40,282.64 101.60,260.75 101.80,240.65 102.00,222.35 102.20,206.30 102.40,191.00 102.40,190.90 102.60,206.06 102.80,222.07 103.00,240.32 103.20,260.46 103.40,282.54 103.60,299.34 103.80,323.81 104.00,379.49 104.20,395.35 104.40,407.28 104.60,415.10 104.80,421.79 105.00,427.69 105.20,432.97 105.40,435.68 105.60,438.90 105.80,441.77 106.00,444.09 106.20,445.70 106.40,446.80 106.60,447.64 106.80,447.83 107.00,448.05 107.20,448.12 107.40,448.17 107.60,449.35 107.80,450.23 108.00,450.75 108.20,451.22 108.40,451.68 108.60,451.97 108.80,452.16 109.00,452.42 109.20,452.72 109.40,452.95 109.60,452.93 109.80,452.61 110.00,452.94 110.20,453.13 110.40,452.88 110.60,453.39 110.80,454.08 111.00,453.61 111.20,452.44 111.40,452.12 111.60,453.30 111.80,454.47 112.00,455.31 112.20,455.66 112.40,455.07 112.60,454.37 112.80,454.09 113.00,454.30 113.20,454.79 113.40,455.19 113.60,455.00 113.80,454.53 114.00,454.77 114.20,455.23 114.40,455.28 114.60,455.87 114.80,456.48 115.00,456.33 115.20,456.19 115.40,456.28 115.60,455.96 115.80,455.56 116.00,455.72 116.20,456.33 116.40,456.71 116.60,456.52 116.80,455.74 117.00,455.20 117.20,455.20 117.40,455.37 117.60,455.58 117.80,455.93 118.00,455.50 118.20,454.06 118.40,453.06 118.60,453.93 118.80,455.52 119.00,455.89 119.20,455.59 119.40,455.33 119.60,454.78 119.80,453.69 120.00,453.15 120.20,453.79 120.40,455.06 120.60,455.91 120.80,455.84 121.00,455.21 121.20,454.96 121.40,455.34 121.60,455.42 121.80,455.29 122.00,455.12 122.20,454.79 122.40,454.49 122.60,454.31 122.80,454.43 123.00,454.99 123.20,455.43 123.40,455.30 123.60,454.98 123.80,455.33 124.00,455.34 124.20,454.81 124.40,454.25 124.60,453.92 124.80,454.19 125.00,454.97 125.20,455.43 125.40,455.67 125.60,455.53 125.80,454.94 126.00,454.69 126.20,455.00 126.40,455.44 126.60,455.43 126.80,455.38 127.00,455.50 127.20,455.74 127.40,455.84 127.60,455.56 127.80,455.80 128.00,455.68 128.20,455.07 128.40,455.18 128.60,455.39 128.80,455.04 129.00,454.41 129.20,454.17 129.40,454.13 129.60,454.61 129.80,454.99 130.00,453.99 130.20,452.60 130.40,452.36 130.60,453.10 130.80,453.67 131.00,453.19 131.20,452.94 131.40,453.56 131.60,453.69 131.80,453.24 132.00,453.07 132.20,453.18 132.40,452.34 132.60,451.21 132.80,451.14 133.00,451.84 133.20,452.74 133.40,453.21 133.60,453.18 133.80,453.83 134.00,454.82 134.20,454.62 134.40,454.05 134.60,453.90 134.80,454.11 135.00,454.91 135.20,455.37 135.40,455.31 135.60,455.38 135.80,455.24 136.00,454.90 136.20,454.37 136.40,453.91 136.60,453.97 136.80,454.52 137.00,454.70 137.20,454.35 137.40,453.85 137.60,453.77 137.80,454.34 138.00,455.01 138.20,455.07 138.40,454.96 138.60,455.54 138.80,456.18 139.00,456.33 139.20,456.43 139.40,456.19 139.60,455.68 139.80,455.14 140.00,454.71 140.20,454.13 140.40,453.79 140.60,453.11 140.80,452.30 141.00,452.71 141.20,453.91 141.40,454.48 141.60,454.18 141.80,452.85 142.00,451.72 142.20,452.07 142.40,452.49 142.60,452.53 142.80,452.53 143.00,452.60 143.20,453.25 143.40,454.25 143.60,454.38 143.80,454.02 144.00,454.35 144.20,455.09 144.40,455.24 144.60,454.73 144.80,454.15 145.00,453.90 145.20,453.68 145.40,453.99 145.60,454.89 145.80,455.08 146.00,454.79 146.20,455.08 146.40,456.22 146.60,457.04 146.80,456.73 147.00,455.87 147.20,455.13 147.40,455.31 147.60,455.98 147.80,456.24 148.00,455.57 148.20,454.89 148.40,454.97 148.60,455.57 148.80,456.28 149.00,456.32 149.20,455.98 149.40,455.83 149.60,455.60 149.80,454.83 150.00,454.05 150.20,454.25 150.40,455.39 150.60,455.99 150.80,455.94 151.00,455.96 151.20,455.91 151.40,455.49 151.60,455.23 151.80,454.68 152.00,454.14 152.20,454.09 152.40,454.48 152.60,454.78 152.80,454.72 153.00,454.19 153.20,454.12 153.40,455.05 153.60,455.77 153.80,455.55 154.00,454.92 154.20,454.20 154.40,453.61 154.60,454.10 154.80,454.89 155.00,454.71 155.20,454.31 155.40,454.44 155.60,454.45 155.80,454.00 156.00,453.33 156.20,453.41 156.40,454.01 156.60,454.35 156.80,454.32 157.00,454.03 157.20,453.96 157.40,454.16 157.60,453.82 157.80,453.03 158.00,452.95 158.20,453.39 158.40,453.80 158.60,453.71 158.80,453.13 159.00,452.69 159.20,452.18 159.40,452.13 159.60,452.46 159.80,452.59 160.00,452.50 160.20,452.46 160.40,452.43 160.60,451.97 160.80,451.29 161.00,451.36 161.20,452.27 161.40,453.41 161.60,454.46 161.80,454.68 162.00,453.48 162.20,452.45 162.40,452.52 162.60,452.69 162.80,452.17 163.00,451.55 163.20,451.44 163.40,451.13 163.60,450.52 163.80,450.59 164.00,450.75 164.20,450.25 164.40,450.38 164.60,451.00 164.80,451.35 165.00,450.84 165.20,450.18 165.40,450.10 165.60,450.21 165.80,450.60 166.00,450.26 166.20,449.19 166.40,448.36 166.60,447.50 166.80,446.87 167.00,446.86 167.20,446.68 167.40,446.32 167.60,445.96 167.80,445.29 168.00,444.00 168.20,442.42 168.40,441.15 168.60,439.98 168.80,438.63 169.00,437.58 169.20,436.63 169.40,435.00 169.60,432.62 169.80,429.60 170.00,426.68 170.20,423.81 170.40,420.73 170.60,417.40 170.80,413.78 171.00,409.97 171.20,405.76 171.40,400.75 171.60,395.33 171.80,389.87 172.00,384.19 172.20,378.24 172.40,372.15 172.60,366.10 172.80,360.24 173.00,354.89 173.20,350.18 173.40,346.26 173.60,343.61 173.80,342.30 173.90,342.08 174.00,342.17 174.20,343.48 174.40,346.12 174.60,350.00 174.80,354.81 175.00,360.23 175.20,366.06 175.40,372.08 175.60,378.09 175.80,383.98 176.00,389.72 176.20,395.16 176.40,400.19 176.60,404.71 176.80,409.09 177.00,413.81 177.20,418.41 177.40,422.35 177.60,425.45 177.80,428.06 178.00,430.10 178.20,431.82 178.40,433.52 178.60,435.08 178.80,436.80 179.00,438.26 179.20,439.76 179.40,441.79 179.60,443.29 179.80,444.16 180.00,445.13 180.20,445.73 180.40,445.34 180.60,444.98 180.80,445.75 181.00,446.97 181.20,447.39 181.40,447.72 181.60,448.82 181.80,449.84 182.00,450.52 182.20,450.48 182.40,449.93 182.60,449.65 182.80,449.51 183.00,449.68 183.20,450.45 183.40,451.43 183.60,451.78 183.80,451.55 184.00,451.69 184.20,451.87 184.40,452.13 184.60,452.53 184.80,452.74 185.00,452.83 185.20,452.40 185.40,452.14 185.60,452.15 185.80,451.70 186.00,451.68 186.20,452.32 186.40,452.66 186.60,452.21 186.80,451.60 187.00,452.07 187.20,453.18 187.40,453.50 187.60,453.28 187.80,453.57 188.00,454.06 188.20,454.19 188.40,454.14 188.60,454.40 188.80,454.61 189.00,454.86 189.20,454.45 189.40,453.60 189.60,453.57 189.80,454.09 190.00,454.01 190.20,453.35 190.40,453.47 190.60,454.09 190.80,453.95 191.00,453.28 191.20,453.21 191.40,453.52 191.60,453.65 191.80,454.14 192.00,454.39 192.20,453.58 192.40,453.14 192.60,454.38 192.80,455.55 193.00,455.63 193.20,454.80 193.40,454.19 193.60,454.73 193.80,455.14 194.00,454.96 194.20,454.48 194.40,454.24 194.60,454.68 194.80,455.23 195.00,454.88 195.20,454.06 195.40,453.76 195.60,454.21 195.80,454.59 196.00,454.91 196.20,455.27 196.40,455.18 196.60,454.81 196.80,454.68 197.00,454.84 197.20,455.12 197.40,455.06 197.60,454.58 197.80,454.41 198.00,454.89 198.20,454.87 198.40,454.34 198.60,454.14 198.80,453.62 199.00,453.26 199.20,454.05 199.40,454.68 199.60,454.38 199.80,454.37 200.00,454.56 200.20,454.08 200.40,453.90 200.60,454.52 200.80,455.22 201.00,455.26 201.20,454.81 201.40,454.68 201.60,454.72 201.80,454.46 202.00,454.13 202.20,454.41 202.40,455.26 202.60,456.25 202.80,456.98 203.00,456.31 203.20,455.29 203.40,455.24 203.60,455.63 203.80,455.87 204.00,455.93 204.20,455.85 204.40,455.92 204.60,456.53 204.80,456.77 205.00,456.00 205.20,455.69 205.40,456.34 205.60,456.93 205.80,457.03 206.00,456.75 206.20,456.18 206.40,456.02 206.60,456.50 206.80,457.16 207.00,457.57 207.20,456.92 207.40,455.85 207.60,455.61 207.80,455.16 208.00,454.88 208.20,455.54 208.40,455.87 208.60,455.49 208.80,455.05 209.00,455.07 209.20,455.24 209.40,455.32 209.60,455.80 209.80,456.27 210.00,456.42 210.20,456.41 210.40,455.98 210.60,455.40 210.80,455.53 211.00,456.37 211.20,456.92 211.40,456.63 211.60,456.12 211.80,455.58 212.00,454.95 212.20,455.00 212.40,455.57 212.60,455.91 212.80,455.87 213.00,455.57 213.20,455.31 213.40,455.47 213.60,455.42 213.80,454.86 214.00,455.01 214.20,456.16 214.40,457.35 214.60,457.89 214.80,458.07 215.00,457.62 215.20,456.66 215.40,456.06 215.60,456.21 215.80,457.05 216.00,457.50 216.20,457.47 216.40,457.37 216.60,457.21 216.80,457.09 217.00,457.21 217.20,456.99 217.40,456.12 217.60,455.75 217.80,456.39 218.00,456.99 218.20,456.82 218.40,456.59 218.60,456.51 218.80,455.74 219.00,454.61 219.20,454.09 219.40,454.22 219.60,454.93 219.80,455.76 220.00,456.67 220.20,456.99 220.40,456.22 220.60,455.41 220.80,454.47 221.00,453.65 221.20,453.99 221.40,454.75 221.60,455.02 221.80,454.67 222.00,454.64 222.20,455.13 222.40,455.02 222.60,454.48 222.80,454.40 223.00,454.98 223.20,455.72 223.40,455.64 223.60,455.05 223.80,455.12 224.00,455.18 224.20,455.15 224.40,454.91 224.60,454.43 224.80,454.09 225.00,453.54 225.20,453.39 225.40,454.11 225.60,455.34 225.80,455.78 226.00,455.25 226.20,454.58 226.40,454.55 226.60,455.27 226.80,455.50 227.00,454.87 227.20,454.04 227.40,453.69 227.60,454.00 227.80,454.18 228.00,453.88 228.20,454.30 228.40,455.18 228.60,455.57 228.80,455.49 229.00,455.08 229.20,454.99 229.40,455.19 229.60,454.95 229.80,454.27 230.00,453.53 230.20,453.55 230.40,454.20 230.60,454.08 230.80,453.89 231.00,453.94 231.20,453.37 231.40,452.94 231.60,453.30 231.80,453.95 232.00,454.48 232.20,454.84 232.40,454.85 232.60,454.51 232.80,454.21 233.00,453.89 233.20,453.78 233.40,454.21 233.60,454.91 233.80,455.29 234.00,454.74 234.20,454.06 234.40,454.08 234.60,454.31 234.80,454.07 235.00,453.12 235.20,452.75 235.40,453.09 235.60,453.37 235.80,452.97 236.00,452.16 236.20,452.27 236.40,453.63 236.60,454.88 236.80,454.87 237.00,454.09 237.20,453.44 237.40,452.83 237.60,452.96 237.80,453.90 238.00,454.11 238.20,453.62 238.40,453.62 238.60,454.00 238.80,453.93 239.00,453.64 239.20,453.61 239.40,453.46 239.60,453.21 239.80,453.35 240.00,453.66 240.20,453.41 240.40,453.67 240.60,454.80 240.80,455.19 241.00,454.66 241.20,454.06 241.40,453.53 241.60,453.18 241.80,453.55 242.00,454.00 242.20,454.11 242.40,454.02 242.60,453.76 242.80,453.47 243.00,453.21 243.20,453.32 243.40,453.23 243.60,453.09 243.80,453.46 244.00,453.87 244.20,454.16 244.40,454.43 244.60,454.54 244.80,454.88 245.00,454.91 245.20,454.72 245.40,454.61 245.60,454.27 245.80,454.43 246.00,454.70 246.20,454.32 246.40,453.40 246.60,453.07 246.80,453.54 247.00,454.19 247.20,454.51 247.40,454.45 247.60,454.09 247.80,453.60 248.00,453.45 248.20,454.08 248.40,454.95 248.60,455.21 248.80,454.96 249.00,454.69 249.20,454.34 249.40,454.27 249.60,454.13 249.80,453.97 250.00,453.65 250.20,453.59 250.40,454.26 250.60,454.87 250.80,454.80 251.00,454.81 251.20,454.88 251.40,454.90 251.60,454.91 251.80,454.57 252.00,454.09 252.20,454.23 252.40,454.44 252.60,454.34 252.80,454.24 253.00,454.22 253.20,454.37 253.40,454.31 253.60,454.58 253.80,455.22 254.00,455.24 254.20,454.60 254.40,454.33 254.60,454.13 254.80,453.94 255.00,454.96 255.20,455.48 255.40,455.17 255.60,455.37 255.80,455.34 256.00,454.47 256.20,453.54 256.40,453.71 256.60,454.22 256.80,454.32 257.00,454.14 257.20,453.50 257.40,452.95 257.60,453.44 257.80,454.04 258.00,454.28 258.20,454.41 258.40,454.76 258.60,455.36 258.80,455.60 259.00,455.34 259.20,455.24 259.40,454.53 259.60,453.62 259.80,453.54 260.00,453.92 260.20,454.06 260.40,454.49 260.60,454.48 260.80,453.95 261.00,453.89 261.20,454.32 261.40,454.62 261.60,454.60 261.80,454.22 262.00,453.93 262.20,453.82 262.40,453.76 262.60,454.01 262.80,453.72 263.00,452.99 263.20,452.71 263.40,452.76 263.60,453.19 263.80,454.23 264.00,454.35 264.20,453.71 264.40,454.03 264.60,454.64 264.80,453.99 265.00,452.53 265.20,451.68 265.40,452.34 265.60,453.59 265.80,453.67 266.00,453.26 266.20,453.39 266.40,453.24 266.60,452.89 266.80,452.95 267.00,453.53 267.20,453.90 267.40,453.46 267.60,453.61 267.80,454.46 268.00,454.53 268.20,454.24 268.40,454.60 268.60,454.22 268.80,453.49 269.00,453.39 269.20,453.01 269.40,452.63 269.60,452.03 269.80,452.00 270.00,452.90 270.20,453.34 270.40,453.15 270.60,452.98 270.80,452.74 271.00,452.38 271.20,452.35 271.40,452.75 271.60,452.80 271.80,452.46 272.00,452.14 272.20,451.81 272.40,451.53 272.60,451.73 272.80,452.27 273.00,452.68 273.20,452.35 273.40,452.25 273.60,452.77 273.80,453.27 274.00,453.40 274.20,453.68 274.40,454.03 274.60,453.79 274.80,453.98 275.00,454.23 275.20,453.62 275.40,453.33 275.60,452.89 275.80,452.19 276.00,452.31 276.20,452.59 276.40,452.37 276.60,452.75 276.80,453.31 277.00,453.24 277.20,452.94 277.40,452.56 277.60,452.37 277.80,452.52 278.00,453.01 278.20,453.64 278.40,454.26 278.60,454.75 278.80,454.61 279.00,454.62 279.20,454.69 279.40,453.83 279.60,453.02 279.80,452.85 280.00,453.03 280.20,453.81 280.40,454.43 280.60,454.09 280.80,453.46 281.00,453.46 281.20,453.95 281.40,454.05 281.60,453.55 281.80,453.51 282.00,453.97 282.20,454.05 282.40,453.92 282.60,453.63 282.80,453.29 283.00,453.58 283.20,454.01 283.40,453.84 283.60,453.73 283.80,454.14 284.00,454.89 284.20,455.11 284.40,454.40 284.60,454.45 284.80,454.93 285.00,454.49 285.20,453.71 285.40,453.47 285.60,454.20 285.80,454.76 286.00,454.57 286.20,454.16 286.40,454.04 286.60,454.17 286.80,454.34 287.00,454.26 287.20,453.83 287.40,453.01 287.60,452.26 287.80,452.02 288.00,453.02 288.20,454.12 288.40,454.71 288.60,454.82 288.80,453.94 289.00,453.18 289.20,452.98 289.40,452.99 289.60,452.83 289.80,452.69 290.00,453.51 290.20,454.61 290.40,454.62 290.60,454.07 290.80,453.51 291.00,453.66 291.20,454.00 291.40,453.79 291.60,453.53 291.80,453.68 292.00,454.16 292.20,454.63 292.40,454.20 292.60,452.84 292.80,452.26 293.00,453.02 293.20,453.99 293.40,454.62 293.60,454.70 293.80,454.69 294.00,454.92 294.20,454.20 294.40,453.51 294.60,454.00 294.80,454.25 295.00,453.66 295.20,453.02 295.40,453.24 295.60,453.76 295.80,454.17 296.00,454.80 296.20,455.45 296.40,455.68 296.60,455.31 296.80,454.98 297.00,455.09 297.20,454.91 297.40,454.42 297.60,453.45 297.80,452.34 298.00,452.17 298.20,452.95 298.40,453.54 298.60,453.95 298.80,453.82 299.00,452.89 299.20,452.72 299.40,453.62 299.60,454.13 299.80,453.82 300.00,453.24 300.20,452.99 300.40,453.35 300.60,453.88 300.80,454.53 301.00,454.76 301.20,454.46 301.40,454.47 301.60,454.76 301.80,455.23 302.00,455.54 302.20,455.35 302.40,455.05 302.60,454.63 302.80,454.10 303.00,454.08 303.20,454.62 303.40,455.32 303.60,455.74 303.80,455.26 304.00,453.89 304.20,452.86 304.40,452.31 304.60,452.26 304.80,452.81 305.00,453.80 305.20,453.89 305.40,453.40 305.60,453.72 305.80,454.52 306.00,454.92 306.20,454.48 306.40,453.77 306.60,453.51 306.80,453.56 307.00,453.24 307.20,452.60 307.40,452.49 307.60,452.85 307.80,452.76 308.00,452.84 308.20,453.23 308.40,453.35 308.60,453.13 308.80,452.65 309.00,452.26 309.20,451.50 309.40,451.03 309.60,451.44 309.80,451.96 310.00,451.91 310.20,452.09 310.40,452.62 310.60,452.57 310.80,452.61 311.00,452.81 311.20,452.92 311.40,453.26 311.60,453.50 311.80,453.55 312.00,453.42 312.20,452.79 312.40,452.44 312.60,452.61 312.80,452.80 313.00,453.11 313.20,453.21 313.40,453.30 313.60,453.51 313.80,452.85 314.00,451.90 314.20,452.41 314.40,453.39 314.60,453.57 314.80,453.07 315.00,452.90 315.20,453.35 315.40,453.18 315.60,452.18 315.80,451.79 316.00,451.79 316.20,451.79 316.40,452.68 316.60,453.48 316.80,453.40 317.00,453.31 317.20,453.48 317.40,454.08 317.60,454.74 317.80,454.93 318.00,454.76 318.20,454.65 318.40,454.35 318.60,454.20 318.80,454.31 319.00,454.14 319.20,454.65 319.40,455.39 319.60,454.80 319.80,453.78 320.00,453.44 320.20,453.24 320.40,452.89 320.60,452.66 320.80,452.73 321.00,452.88 321.20,453.54 321.40,454.33 321.60,454.93 321.80,454.59 322.00,453.06 322.20,452.20 322.40,452.44 322.60,453.19 322.80,453.75 323.00,453.48 323.20,452.89 323.40,452.61 323.60,452.79 323.80,453.07 324.00,453.03 324.20,452.95 324.40,453.51 324.60,454.10 324.80,453.93 325.00,453.74 325.20,454.34 325.40,454.67 325.60,454.02 325.80,453.05 326.00,452.82 326.20,453.14 326.40,453.14 326.60,453.52 326.80,454.66 327.00,455.41 327.20,455.67 327.40,455.72 327.60,455.19 327.80,454.68 328.00,454.96 328.20,455.23 328.40,455.57 328.60,455.97 328.80,456.03 329.00,455.83 329.20,455.11 329.40,454.34 329.60,453.99 329.80,453.76 330.00,453.60 330.20,453.98 330.40,454.12 330.60,453.41 330.80,452.54 331.00,452.85 331.20,453.97 331.40,454.67 331.60,454.99 331.80,454.74 332.00,454.24 332.20,453.75 332.40,453.87 332.60,454.62 332.80,455.59 333.00,456.12 333.20,455.42 333.40,454.37 333.60,454.23 333.80,454.38 334.00,454.65 334.20,455.38 334.40,455.76 334.60,455.58 334.80,455.79 335.00,455.71 335.20,455.47 335.40,456.15 335.60,456.51 335.80,456.27 336.00,456.17 336.20,455.97 336.40,455.80 336.60,455.27 336.80,454.64 337.00,454.54 337.20,454.39 337.40,453.92 337.60,453.50 337.80,453.46 338.00,453.87 338.20,454.16 338.40,453.82 338.60,453.81 338.80,453.81 339.00,453.92 339.20,454.40 339.40,454.75 339.60,455.07 339.80,455.01 340.00,454.87 340.20,454.96 340.40,455.27 340.60,455.23 340.80,454.86 341.00,455.11 341.20,455.53 341.40,455.49 341.60,455.40 341.80,454.66 342.00,453.64 342.20,453.02 342.40,452.88 342.60,453.08 342.80,453.89 343.00,454.67 343.20,454.56 343.40,453.98 343.60,453.57 343.80,453.34 344.00,453.30 344.20,454.16 344.40,455.35 344.60,455.23 344.80,454.83 345.00,455.36 345.20,455.57 345.40,454.84 345.60,454.05 345.80,453.53 346.00,454.12 346.20,455.99 346.40,456.65 346.60,455.09 346.80,454.31 347.00,455.24 347.20,455.83 347.40,455.76 347.60,455.50 347.80,454.96 348.00,454.81 348.20,454.81 348.40,454.56 348.60,454.43 348.80,454.37 349.00,454.28 349.20,453.66 349.40,452.94 349.60,452.84 349.80,452.64 350.00,452.46 350.20,452.85 350.40,453.61 350.60,453.85 350.80,454.12 351.00,454.69 351.20,454.48 351.40,453.45 351.60,452.91 351.80,453.44 352.00,453.76 352.20,453.87 352.40,454.00 352.60,453.86 352.80,454.10 353.00,454.57 353.20,454.51 353.40,454.51 353.60,455.21 353.80,455.78 354.00,455.60 354.20,454.88 354.40,454.66 354.60,454.85 354.80,454.67 355.00,454.24 355.20,453.86 355.40,453.51 355.60,453.29 355.80,453.46 356.00,453.71 356.20,453.40 356.40,453.23 356.60,454.15 356.80,455.14 357.00,454.56 357.20,453.18 357.40,453.17 357.60,454.00 357.80,454.22 358.00,454.05 358.20,453.88 358.40,453.70 358.60,453.74 358.80,453.95 359.00,453.80 359.20,454.25 359.40,455.13 359.60,455.14 359.80,454.45 360.00,453.85 360.20,453.50 360.40,453.55 360.60,454.12 360.80,454.59 361.00,454.50 361.20,454.54 361.40,454.65 361.60,454.51 361.80,454.43 362.00,454.59 362.20,454.51 362.40,454.06 362.60,453.34 362.80,453.19 363.00,454.16 363.20,454.66 363.40,454.33 363.60,454.20 363.80,454.19 364.00,454.26 364.20,454.86 364.40,455.40 364.60,455.44 364.80,454.75 365.00,453.96 365.20,454.16 365.40,454.76 365.60,455.44 365.80,455.75 366.00,455.58 366.20,455.75 366.40,456.00 366.60,455.07 366.80,454.24 367.00,454.23 367.20,454.53 367.40,455.44 367.60,455.97 367.80,455.89 368.00,455.41 368.20,454.40 368.40,453.47 368.60,453.55 368.80,454.08 369.00,454.18 369.20,453.94 369.40,453.51 369.60,453.51 369.80,454.08 370.00,454.34 370.20,453.78 370.40,453.03 370.60,453.27 370.80,453.98 371.00,453.50 371.20,453.00 371.40,453.39 371.60,453.89 371.80,453.95 372.00,454.05 372.20,453.83 372.40,453.36 372.60,453.20 372.80,453.17 373.00,453.61 373.20,454.00 373.40,453.62 373.60,453.15 373.80,453.21 374.00,453.42 374.20,452.95 374.40,451.96 374.60,452.09 374.80,453.16 375.00,453.67 375.20,453.74 375.40,453.70 375.60,453.49 375.80,453.43 376.00,453.77 376.20,454.10 376.40,453.96 376.60,453.42 376.80,453.02 377.00,452.92 377.20,452.71 377.40,452.90 377.60,453.50 377.80,454.13 378.00,454.65 378.20,454.69 378.40,454.23 378.60,453.74 378.80,453.70 379.00,454.21 379.20,454.78 379.40,454.36 379.60,453.55 379.80,453.57 380.00,453.99 380.20,453.94 380.40,454.10 380.60,454.47 380.80,454.46 381.00,454.14 381.20,454.29 381.40,454.74 381.60,455.21 381.80,455.31 382.00,454.83 382.20,454.50 382.40,454.28 382.60,453.82 382.80,453.63 383.00,453.26 383.20,452.75 383.40,452.56 383.60,453.24 383.80,454.58 384.00,455.27 384.20,455.29 384.40,455.19 384.60,454.67 384.80,454.04 385.00,454.09 385.20,454.93 385.40,455.54 385.60,455.27 385.80,454.37 386.00,453.80 386.20,454.03 386.40,454.92 386.60,455.33 386.80,455.05 387.00,454.59 387.20,454.33 387.40,454.48 387.60,454.73 387.80,454.68 388.00,454.74 388.20,454.30 388.40,453.35 388.60,452.88 388.80,453.16 389.00,453.47 389.20,453.74 389.40,454.56 389.60,455.03 389.80,454.19 390.00,452.78 390.20,452.72 390.40,454.21 390.60,455.01 390.80,454.64 391.00,454.28 391.20,453.99 391.40,454.01 391.60,454.33 391.80,454.51 392.00,455.07 392.20,455.44 392.40,455.24 392.60,454.89 392.80,454.35 393.00,454.53 393.20,455.25 393.40,455.63 393.60,454.91 393.80,454.37 394.00,454.35 394.20,453.92 394.40,453.89 394.60,454.30 394.80,454.81 395.00,454.90 395.20,454.71 395.40,454.03 395.60,453.12 395.80,453.34 396.00,454.53 396.20,454.53 396.40,453.89 396.60,454.10 396.80,454.45 397.00,454.66 397.20,455.21 397.40,454.98 397.60,454.81 397.80,455.10 398.00,454.77 398.20,454.47 398.40,454.96 398.60,455.34 398.80,455.00 399.00,454.09 399.20,453.83 399.40,454.11 399.60,453.61 399.80,453.02 400.00,453.57 400.20,454.34 400.40,454.64 400.60,454.81 400.80,454.40 401.00,453.68 401.20,453.14 401.40,453.35 401.60,454.10 401.80,454.69 402.00,454.84 402.20,454.29 402.40,453.43 402.60,453.49 402.80,453.66 403.00,453.52 403.20,453.61 403.40,453.83 403.60,454.11 403.80,454.22 404.00,454.19 404.20,454.32 404.40,454.93 404.60,455.42 404.80,455.39 405.00,454.64 405.20,454.05 405.40,453.91 405.60,453.63 405.80,453.51 406.00,453.82 406.20,453.91 406.40,453.69 406.60,453.52 406.80,453.53 407.00,453.69 407.20,454.12 407.40,454.91 407.60,455.06 407.80,454.60 408.00,454.07 408.20,454.18 408.40,454.64 408.60,454.99 408.80,454.59 409.00,453.96 409.20,453.96 409.40,454.08 409.60,454.41 409.80,454.14 410.00,453.79 410.20,454.08 410.40,453.93 410.60,453.41 410.80,453.45 411.00,453.57 411.20,453.33 411.40,453.84 411.60,454.65 411.80,454.54 412.00,454.59 412.20,455.03 412.40,455.18 412.60,454.34 412.80,453.26 413.00,453.73 413.20,454.69 413.40,455.09 413.60,455.44 413.80,454.98 414.00,454.52 414.20,455.26 414.40,455.76 414.60,455.21 414.80,454.68 415.00,454.27 415.20,454.31 415.40,454.87 415.60,455.32 415.80,455.54 416.00,455.95 416.20,455.90 416.40,454.56 416.60,453.87 416.80,454.51 417.00,454.73 417.20,454.76 417.40,455.11 417.60,454.59 417.80,454.23 418.00,455.06 418.20,456.06 418.40,455.93 418.60,454.48 418.80,453.73 419.00,454.08 419.20,454.40 419.40,454.35 419.60,453.89 419.80,453.68 420.00,454.37 420.20,455.28 420.40,455.40 420.60,455.08 420.80,455.15 421.00,455.07 421.20,454.67 421.40,454.76 421.60,455.71 421.80,456.43 422.00,455.56 422.20,454.46 422.40,454.27 422.60,454.52 422.80,454.33 423.00,453.48 423.20,453.69 423.40,454.73 423.60,455.11 423.80,454.97 424.00,454.59 424.20,454.06 424.40,453.82 424.60,453.44 424.80,453.45 425.00,453.89 425.20,453.95 425.40,454.09 425.60,454.26 425.80,454.35 426.00,455.19 426.20,455.82 426.40,455.47 426.60,455.19 426.80,454.60 427.00,453.49 427.20,453.04 427.40,453.07 427.60,453.10 427.80,453.83 428.00,454.67 428.20,455.11 428.40,455.43 428.60,455.53 428.80,455.44 429.00,455.65 429.20,455.64 429.40,455.35 429.60,455.21 429.80,455.17 430.00,455.10 430.20,455.48 430.40,455.50 430.60,454.67 430.80,454.08 431.00,454.28 431.20,454.96 431.40,455.76 431.60,456.62 431.80,457.26 432.00,456.99 432.20,455.93 432.40,454.94 432.60,454.82 432.80,455.49 433.00,455.70 433.20,455.31 433.40,454.92 433.60,454.25 433.80,453.74 434.00,454.43 434.20,455.10 434.40,454.90 434.60,454.65 434.80,455.16 435.00,456.10 435.20,456.77 435.40,456.60 435.60,455.81 435.80,454.79 436.00,453.99 436.20,453.74 436.40,453.92 436.60,454.78 436.80,455.79 437.00,456.15 437.20,455.89 437.40,455.53 437.60,455.19 437.80,454.27 438.00,453.62 438.20,453.97 438.40,453.95 438.60,453.32 438.80,452.88 439.00,452.87 439.20,453.89 439.40,454.92 439.60,455.18 439.80,455.35 440.00,454.87 440.20,453.90 440.40,453.76 440.60,454.60 440.80,454.70 441.00,454.10 441.20,454.38 441.40,454.91 441.60,454.67 441.80,454.07 442.00,453.46 442.20,453.74 442.40,454.19 442.60,453.65 442.80,453.05 443.00,453.12 443.20,453.39 443.40,453.63 443.60,454.44 443.80,455.46 444.00,455.84 444.20,455.74 444.40,455.87 444.60,455.61 444.80,455.26 445.00,455.68 445.20,456.38 445.40,456.44 445.60,455.84 445.80,455.35 446.00,455.30 446.20,455.18 446.40,455.12 446.60,455.42 446.80,455.35 447.00,454.46 447.20,453.96 447.40,454.23 447.60,455.16 447.80,455.86 448.00,455.65 448.20,454.96 448.40,454.81 448.60,455.02 448.80,454.98 449.00,454.85 449.20,454.78 449.40,454.68 449.60,454.52 449.80,454.11 450.00,453.47 450.20,453.22 450.40,453.30 450.60,453.65 450.80,454.13 451.00,454.80 451.20,454.78 451.40,453.93 451.60,453.86 451.80,454.82 452.00,455.62 452.20,455.55 452.40,455.02 452.60,454.50 452.80,454.37 453.00,454.69 453.20,454.83 453.40,454.40 453.60,453.57 453.80,452.99 454.00,453.12 454.20,453.42 454.40,453.58 454.60,453.69 454.80,453.59 455.00,454.00 455.20,454.78 455.40,455.22 455.60,455.31 455.80,455.07 456.00,454.40 456.20,454.23 456.40,454.47 456.60,454.10 456.80,453.64 457.00,453.79 457.20,454.67 457.40,454.74 457.60,453.75 457.80,453.35 458.00,454.12 458.20,455.10 458.40,455.88 458.60,456.00 458.80,455.20 459.00,454.40 459.20,454.00 459.40,453.57 459.60,453.14 459.80,453.20 460.00,453.24 460.20,452.96 460.40,453.43 460.60,454.35 460.80,454.70 461.00,455.12 461.20,455.37 461.40,455.16 461.60,454.89 461.80,454.34 462.00,453.94 462.20,454.15 462.40,454.49 462.60,454.62 462.80,454.59 463.00,454.74 463.20,454.99 463.40,454.78 463.60,454.68 463.80,454.73 464.00,454.55 464.20,455.00 464.40,455.70 464.60,455.84 464.80,455.68 465.00,455.05 465.20,454.53 465.40,454.42 465.60,454.38 465.80,454.47 466.00,454.88 466.20,455.41 466.40,455.39 466.60,455.10 466.80,455.68 467.00,456.65 467.20,456.38 467.40,455.55 467.60,454.66 467.80,454.61 468.00,454.89 468.20,454.32 468.40,453.96 468.60,454.17 468.80,454.30 469.00,454.58 469.20,455.13 469.40,455.49 469.60,455.49 469.80,455.71 470.00,456.17 470.20,455.85 470.40,454.49 470.60,453.47 470.80,453.90 471.00,454.72 471.20,454.57 471.40,454.32 471.60,454.89 471.80,455.58 472.00,455.27 472.20,454.54 472.40,454.27 472.60,455.06 472.80,456.19 473.00,455.94 473.20,455.30 473.40,455.24 473.60,455.11 473.80,454.17 474.00,453.59 474.20,454.37 474.40,455.79 474.60,456.46 474.80,455.64 475.00,454.71 475.20,454.45 475.40,454.35 475.60,454.52 475.80,454.99 476.00,455.21 476.20,455.32 476.40,455.61 476.60,455.49 476.80,455.16 477.00,455.09 477.20,455.40 477.40,455.65 477.60,455.44 477.80,455.08 478.00,455.04 478.20,455.01 478.40,455.33 478.60,455.94 478.80,455.90 479.00,454.93 479.20,454.41 479.40,455.00 479.60,455.62 479.80,455.82 480.00,455.68 480.20,455.17 480.40,455.66 480.60,456.16 480.80,455.70 481.00,455.28 481.20,455.77 481.40,456.17 481.60,455.77 481.80,455.03 482.00,454.95 482.20,455.31 482.40,454.99 482.60,454.26 482.80,453.93 483.00,453.91 483.20,453.93 483.40,454.29 483.60,454.15 483.80,453.90 484.00,454.62 484.20,455.16 484.40,454.52 484.60,453.69 484.80,453.82 485.00,454.11 485.20,453.86 485.40,454.18 485.60,454.71 485.80,454.49 486.00,454.48 486.20,455.26 486.40,455.63 486.60,454.70 486.80,453.35 487.00,452.86 487.20,453.01 487.40,453.23 487.60,453.88 487.80,453.91 488.00,453.23 488.20,453.63 488.40,454.31 488.60,454.51 488.80,454.90 489.00,455.55 489.20,456.38 489.40,456.62 489.60,455.44 489.80,453.99 490.00,453.40 490.20,453.79 490.40,454.72 490.60,455.22 490.80,455.34 491.00,455.68 491.20,456.23 491.40,456.27 491.60,455.60 491.80,454.63 492.00,453.96 492.20,453.69 492.40,453.93 492.60,454.14 492.80,454.11 493.00,454.83 493.20,455.63 493.40,454.92 493.60,453.80 493.80,453.84 494.00,454.77 494.20,455.50 494.40,455.69 494.60,455.72 494.80,455.34 495.00,455.06 495.20,455.42 495.40,455.84 495.60,456.00 495.80,455.41 496.00,454.85 496.20,454.74 496.40,454.98 496.60,455.33 496.80,455.64 497.00,456.06 497.20,456.33 497.40,456.37 497.60,456.24 497.80,456.35 498.00,456.32 498.20,456.42 498.40,457.03 498.60,456.85 498.80,455.85 499.00,455.02 499.20,454.72 499.40,454.68 499.60,454.49 499.80,454.19 500.00,454.34 500.20,454.98 500.40,455.89 500.60,456.47 500.80,456.95 501.00,457.05 501.20,456.67 501.40,456.38 501.60,455.79 501.80,454.99 502.00,454.50 502.20,454.94 502.40,455.55 502.60,455.26 502.80,454.60 503.00,454.18 503.20,453.77 503.40,453.48 503.60,453.87 503.80,454.95 504.00,455.24 504.20,454.38 504.40,453.77 504.60,454.40 504.80,454.85 505.00,454.06 505.20,453.62 505.40,453.96 505.60,454.11 505.80,453.80 506.00,453.69 506.20,453.54 506.40,453.34 506.60,453.45 506.80,453.81 507.00,453.85 507.20,454.10 507.40,454.84 507.60,455.52 507.80,455.84 508.00,455.26 508.20,454.73 508.40,455.28 508.60,456.11 508.80,455.65 509.00,454.58 509.20,454.06 509.40,453.96 509.60,453.96 509.80,453.68 510.00,453.72 510.20,454.46 510.40,455.12 510.60,455.09 510.80,454.49 511.00,453.30 511.20,452.39 511.40,452.80 511.60,453.71 511.80,454.60 512.00,455.03 512.20,454.19 512.40,453.08 512.60,453.12 512.80,453.64 513.00,453.81 513.20,453.11 513.40,452.22 513.60,452.17 513.80,452.26 514.00,452.20 514.20,452.80 514.40,453.63 514.60,454.05 514.80,453.70 515.00,453.29 515.20,453.44 515.40,453.83 515.60,453.73 515.80,452.90 516.00,453.15 516.20,454.73 516.40,455.14 516.60,454.98 516.80,454.78 517.00,453.64 517.20,452.98 517.40,453.32 517.60,453.76 517.80,453.94 518.00,454.14 518.20,454.40 518.40,454.64 518.60,454.07 518.80,453.19 519.00,453.06 519.20,453.23 519.40,453.78 519.60,454.76 519.80,455.24 520.00,454.27 520.20,453.32 520.40,453.45 520.60,454.18 520.80,455.27 521.00,455.74 521.20,455.34 521.40,454.29 521.60,453.62 521.80,453.46 522.00,453.05 522.20,452.90 522.40,453.14 522.60,453.07 522.80,452.56 523.00,452.88 523.20,453.95 523.40,454.15 523.60,454.18 523.80,454.48 524.00,454.32 524.20,453.91 524.40,454.33 524.60,455.36 524.80,455.77 525.00,455.57 525.20,454.81 525.40,453.69 525.60,453.43 525.80,453.24 526.00,453.11 526.20,453.91 526.40,454.49 526.60,453.95 526.80,453.25 527.00,453.56 527.20,454.11 527.40,454.34 527.60,454.69 527.80,455.24 528.00,455.67 528.20,456.00 528.40,456.23 528.60,455.65 528.80,455.13 529.00,454.97 529.20,454.66 529.40,454.55 529.60,454.17 529.80,453.15 530.00,453.55 530.20,455.18 530.40,455.67 530.60,455.28 530.80,454.88 531.00,454.35 531.20,453.78 531.40,453.63 531.60,454.06 531.80,454.90 532.00,455.18 532.20,454.93 532.40,454.61 532.60,454.18 532.80,454.34 533.00,455.19 533.20,455.29 533.40,454.99 533.60,455.33 533.80,455.87 534.00,455.96 534.20,455.69 534.40,455.37 534.60,455.32 534.80,455.75 535.00,455.85 535.20,455.20 535.40,454.57 535.60,454.92 535.80,455.25 536.00,454.35 536.20,452.84 536.40,452.75 536.60,453.68 536.80,454.20 537.00,454.62 537.20,454.95 537.40,454.89 537.60,454.30 537.80,454.05 538.00,454.33 538.20,454.01 538.40,453.40 538.60,454.10 538.80,455.49 539.00,455.08 539.20,453.76 539.40,452.95 539.60,453.22 539.80,454.13 540.00,454.84 540.20,454.91 540.40,454.71 540.60,455.05 540.80,455.21 541.00,454.59 541.20,453.79 541.40,453.13 541.60,453.10 541.80,453.68 542.00,454.60 542.20,455.35 542.40,455.81 542.60,455.78 542.80,455.66 543.00,455.43 543.20,454.95 543.40,454.91 543.60,455.29 543.80,454.62 544.00,453.60 544.20,453.60 544.40,454.41 544.60,455.67 544.80,456.59 545.00,457.01 545.20,456.47 545.40,454.71 545.60,453.44 545.80,453.58 546.00,453.66 546.20,453.23 546.40,453.87 546.60,454.69 546.80,454.57 547.00,454.46 547.20,455.08 547.40,456.26 547.60,456.23 547.80,454.90 548.00,454.36 548.20,454.95 548.40,455.57 548.60,455.81 548.80,456.06 549.00,456.45 549.20,456.84 549.40,456.70 549.60,455.77 549.80,455.15 550.00,455.75 550.20,456.70 550.40,456.74 550.60,456.57 550.80,456.84 551.00,457.14 551.20,456.75 551.40,455.67 551.60,455.41 551.80,455.76 552.00,455.53 552.20,454.53 552.40,453.81 552.60,453.97 552.80,454.40 553.00,455.09 553.20,455.70 553.40,455.30 553.60,454.37 553.80,454.32 554.00,455.11 554.20,455.61 554.40,455.27 554.60,454.53 554.80,453.85 555.00,453.80 555.20,454.16 555.40,454.48 555.60,454.29 555.80,453.84 556.00,453.86 556.20,454.31 556.40,454.79 556.60,455.25 556.80,455.15 557.00,454.93 557.20,454.79 557.40,454.53 557.60,454.62 557.80,454.63 558.00,454.50 558.20,453.88 558.40,453.13 558.60,453.08 558.80,453.86 559.00,454.28 559.20,454.45 559.40,454.99 559.60,454.74 559.80,454.61 560.00,455.19 560.20,455.16 560.40,454.51 560.60,454.10 560.80,454.95 561.00,455.20 561.20,454.77 561.40,454.41 561.60,454.35 561.80,454.90 562.00,455.15 562.20,454.71 562.40,454.04 562.60,453.94 562.80,454.69 563.00,455.19 563.20,454.94 563.40,454.54 563.60,454.67 563.80,455.40 564.00,455.65 564.20,455.05 564.40,455.02 564.60,455.31 564.80,454.69 565.00,454.57 565.20,455.10 565.40,455.30 565.60,454.44 565.80,453.43 566.00,453.53 566.20,454.25 566.40,454.45 566.60,454.10 566.80,453.60 567.00,453.12 567.20,453.14 567.40,453.64 567.60,454.07 567.80,454.29 568.00,454.64 568.20,454.98 568.40,454.86 568.60,455.43 568.80,456.29 569.00,456.71 569.20,456.13 569.40,455.18 569.60,455.35 569.80,456.00 570.00,456.13 570.20,455.72 570.40,455.47 570.60,455.60 570.80,455.23 571.00,454.81 571.20,454.70 571.40,454.49 571.60,454.62 571.80,455.64 572.00,456.50 572.20,455.94 572.40,455.01 572.60,454.58 572.80,454.39 573.00,454.29 573.20,454.68 573.40,454.98 573.60,455.01 573.80,454.99 574.00,455.02 574.20,455.29 574.40,455.46 574.60,455.38 574.80,455.32 575.00,455.40 575.20,455.50 575.40,455.69 575.60,455.76 575.80,455.84 576.00,455.50 576.20,454.89 576.40,454.75 576.60,455.26 576.80,455.56 577.00,455.55 577.20,455.49 577.40,455.08 577.60,454.47 577.80,454.58 578.00,455.45 578.20,456.34 578.40,457.22 578.60,457.54 578.80,457.07 579.00,456.53 579.20,456.10 579.40,455.39 579.60,454.34 579.80,454.07 580.00,455.19 580.20,455.96 580.40,455.93 580.60,456.08 580.80,456.49 581.00,456.46 581.20,455.99 581.40,455.79 581.60,456.23 581.80,456.87 582.00,456.81 582.20,455.87 582.40,455.24 582.60,455.03 582.80,455.65 583.00,456.37 583.20,455.82 583.40,455.15 583.60,455.16 583.80,455.28 584.00,454.68 584.20,454.26 584.40,454.93 584.60,455.55 584.80,455.38 585.00,454.90 585.20,454.33 585.40,454.10 585.60,454.11 585.80,453.92 586.00,453.82 586.20,453.96 586.40,454.53 586.60,455.12 586.80,455.37 587.00,455.50 587.20,455.13 587.40,454.41 587.60,453.95 587.80,453.88 588.00,453.92 588.20,453.89 588.40,453.23 588.60,452.70 588.80,452.66 589.00,452.89 589.20,453.37 589.40,453.58 589.60,453.72 589.80,453.52 590.00,452.97 590.20,453.42 590.40,454.37 590.60,454.69 590.80,454.23 591.00,454.00 591.20,454.61 591.40,455.45 591.60,456.02 591.80,455.61 592.00,454.62 592.20,454.05 592.40,453.28 592.60,452.70 592.80,452.94 593.00,452.55 593.20,451.65 593.40,451.72 593.60,451.95 593.80,452.09 594.00,451.72 594.20,451.33 594.40,451.11 594.60,450.74 594.80,450.15 595.00,448.73 595.20,447.51 595.40,447.16 595.60,447.28 595.80,447.25 596.00,447.20 596.20,446.98 596.40,446.47 596.60,445.85 596.80,444.84 597.00,443.30 597.20,441.90 597.40,441.32 597.60,441.08 597.80,440.16 598.00,439.09 598.20,438.61 598.40,438.57 598.60,438.34 598.80,437.65 599.00,437.02 599.20,436.47 599.40,435.86 599.60,436.31 599.80,437.19 599.96,437.51 600.00,437.51 600.20,437.29 600.40,437.12 600.60,436.95 600.80,437.05 601.00,437.56 601.20,437.52 601.40,436.75 601.60,436.45 601.80,436.66 602.00,437.31 602.20,438.17 602.40,439.20 602.60,440.45 602.80,441.67 603.00,442.00 603.20,441.58 603.40,441.75 603.60,442.31 603.80,442.37 604.00,442.25 604.20,442.72 604.40,443.95 604.60,444.53 604.80,444.29 605.00,444.40 605.20,445.37 605.40,446.54 605.60,446.97 605.80,447.35 606.00,448.58 606.20,450.23 606.40,451.41 606.60,451.76 606.80,451.62 607.00,451.72 607.20,452.18 607.40,452.59 607.60,452.45 607.80,451.92 608.00,451.94 608.20,452.62 608.40,453.14 608.60,453.08 608.80,453.40 609.00,454.38 609.20,454.61 609.40,453.99 609.60,454.09 609.80,454.56 610.00,454.52 610.20,454.18 610.40,453.72 610.60,454.10 610.80,455.15 611.00,455.67 611.20,454.83 611.40,453.29 611.60,452.76 611.80,453.57 612.00,454.77 612.20,455.45 612.40,455.51 612.60,454.96 612.80,454.13 613.00,453.69 613.20,453.79 613.40,453.97 613.60,453.80 613.80,454.08 614.00,454.69 614.20,454.79 614.40,454.30 614.60,454.01 614.80,454.06 615.00,454.34 615.20,454.11 615.40,453.61 615.60,453.28 615.80,453.27 616.00,453.47 616.20,453.99 616.40,454.40 616.60,454.28 616.80,454.45 617.00,454.35 617.20,453.36 617.40,452.92 617.60,453.30 617.80,453.31 618.00,453.58 618.20,454.27 618.40,454.61 618.60,454.51 618.80,454.70 619.00,455.39 619.20,455.94 619.40,455.90 619.60,455.14 619.80,454.84 620.00,455.17 620.20,455.50 620.40,455.64 620.60,456.01 620.80,456.38 621.00,456.02 621.20,455.65 621.40,455.39 621.60,455.17 621.80,454.97 622.00,454.73 622.20,454.81 622.40,454.57 622.60,454.66 622.80,454.94 623.00,454.95 623.20,455.45 623.40,456.70 623.60,457.43 623.80,456.81 624.00,455.63 624.20,454.85 624.40,455.07 624.60,456.01 624.80,456.62 625.00,456.80 625.20,456.69 625.40,456.09 625.60,454.96 625.80,454.17 626.00,454.13 626.20,454.54 626.40,454.77 626.60,454.59 626.80,454.43 627.00,454.92 627.20,455.19 627.40,454.30 627.60,453.39 627.80,453.86 628.00,454.74 628.20,455.21 628.40,455.21 628.60,455.07 628.80,454.96 629.00,455.19 629.20,455.33 629.40,455.07 629.60,454.99 629.80,455.11 630.00,455.12 630.20,454.88 630.40,454.32 630.60,453.78 630.80,454.28 631.00,455.10 631.20,454.94 631.40,454.18 631.60,454.12 631.80,454.73 632.00,455.14 632.20,455.16 632.40,455.04 632.60,455.11 632.80,454.92 633.00,454.13 633.20,453.96 633.40,454.52 633.60,454.68 633.80,454.59 634.00,454.22 634.20,454.39 634.40,455.01 634.60,454.59 634.80,453.87 635.00,453.99 635.20,454.33 635.40,454.44 635.60,454.27 635.80,454.01 636.00,454.35"/>
<g stroke="#000" stroke-width="1.7"><line x1="95.05" y1="461.7" x2="95.05" y2="470.7"/><line x1="178.32" y1="461.7" x2="178.32" y2="470.7"/><line x1="261.60" y1="461.7" x2="261.60" y2="470.7"/><line x1="344.88" y1="461.7" x2="344.88" y2="470.7"/><line x1="428.15" y1="461.7" x2="428.15" y2="470.7"/><line x1="511.43" y1="461.7" x2="511.43" y2="470.7"/><line x1="594.70" y1="461.7" x2="594.70" y2="470.7"/><line x1="136.69" y1="465.7" x2="136.69" y2="470.7"/><line x1="219.96" y1="465.7" x2="219.96" y2="470.7"/><line x1="303.24" y1="465.7" x2="303.24" y2="470.7"/><line x1="386.51" y1="465.7" x2="386.51" y2="470.7"/><line x1="469.79" y1="465.7" x2="469.79" y2="470.7"/><line x1="553.06" y1="465.7" x2="553.06" y2="470.7"/></g>
<g stroke="#000" fill="none">
<line x1="53.1" y1="37.4" x2="636.9" y2="37.4" stroke-width="2.9"/>
<line x1="53.1" y1="38.5" x2="53.1" y2="471.7" stroke-width="2.2"/>
<line x1="636.75" y1="38" x2="636.75" y2="471.7" stroke-width="2.3"/>
<line x1="52" y1="470.7" x2="637.9" y2="470.7" stroke-width="2.0"/>
</g>
<g font-size="21.33"><text x="95.05" y="498.7" text-anchor="middle">50</text><text x="178.32" y="498.7" text-anchor="middle">60</text><text x="261.60" y="498.7" text-anchor="middle">70</text><text x="344.88" y="498.7" text-anchor="middle">80</text><text x="428.15" y="498.7" text-anchor="middle">90</text><text x="511.43" y="498.7" text-anchor="middle">100</text><text x="594.70" y="498.7" text-anchor="middle">110</text></g>
<text x="281.7" y="537.8" font-size="25.1">2<tspan font-style="italic">θ</tspan> (deg.)</text>
<text transform="translate(35.8,340.2) rotate(-90)" font-size="25">Intensity (a.u.)</text>
<g font-size="25.2">
<text transform="translate(138.9,141.3) rotate(-90)">γ(111)</text>
<text transform="translate(180,248) rotate(-90)">γ(200)</text>
<text transform="translate(426.2,295.4) rotate(-90)">γ(220)</text>
<text transform="translate(601.8,298.6) rotate(-90)">γ(311)</text>
</g>
<line x1="338.5" y1="79" x2="386.9" y2="79" stroke="#000" stroke-width="1.8"/>
<line x1="337.9" y1="105.6" x2="377.2" y2="105.6" stroke="#e0190c" stroke-width="1.9" stroke-dasharray="8.1 7.35"/>
<line x1="394.4" y1="79.1" x2="410.2" y2="79.1" stroke="#9a9a9a" stroke-width="1.6"/>
<line x1="394.4" y1="104.8" x2="410.2" y2="104.8" stroke="#6a6a6a" stroke-width="1.6"/>
<g font-size="21.33">
<text x="413.0" y="86.5">196 °C tensile fracture</text>
<text x="413.0" y="112.6">196 °C impact fracture</text>
</g>
</svg>
</body></html>
